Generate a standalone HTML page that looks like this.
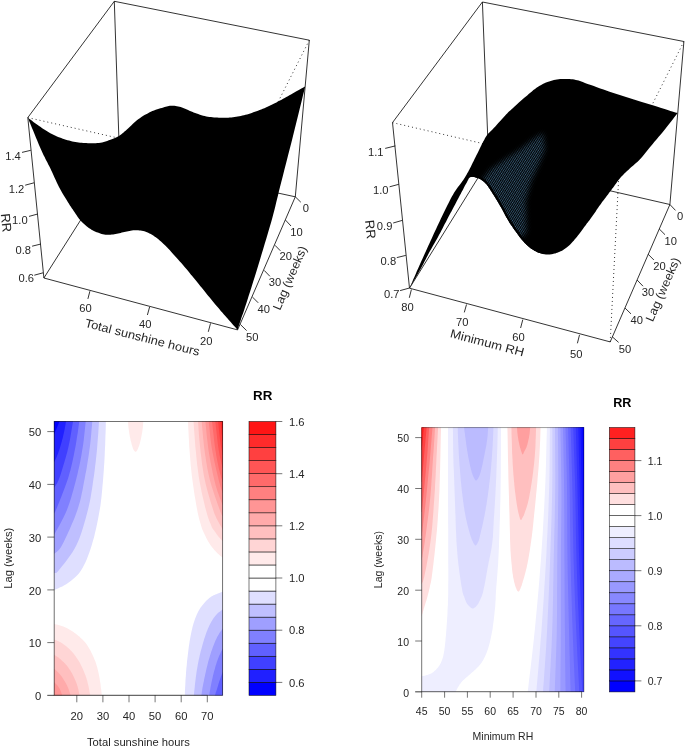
<!DOCTYPE html>
<html><head><meta charset="utf-8"><title>RR plots</title>
<style>
html,body{margin:0;padding:0;background:#fff;}
svg{display:block;font-family:"Liberation Sans",sans-serif;will-change:transform;}
text{fill:#262626;}
.bx line{stroke:#000;stroke-width:0.8;}
.dt line{stroke:#000;stroke-width:0.8;stroke-dasharray:1 3;}
.ax line{stroke:#000;stroke-opacity:0.6;stroke-width:0.9;}
.t3{font-size:11.2px;}
.tl{font-size:12px;}
.t2{font-size:10.5px;}
</style></head><body>
<svg width="685" height="747" viewBox="0 0 685 747">
<rect x="0" y="0" width="685" height="747" fill="#ffffff"/>
<g class="bx">
<line x1="114.3" y1="1.3" x2="27.8" y2="117.6" />
<line x1="114.3" y1="1.3" x2="309.3" y2="40.2" />
<line x1="114.3" y1="1.3" x2="119.0" y2="142.0" />
<line x1="27.8" y1="117.6" x2="43.9" y2="278.0" />
<line x1="309.3" y1="40.2" x2="295.3" y2="196.8" />
<line x1="43.9" y1="278.0" x2="237.6" y2="329.9" />
<line x1="237.6" y1="329.9" x2="295.3" y2="196.8" />
<line x1="43.9" y1="278.0" x2="87.0" y2="210.0" />
<line x1="295.3" y1="196.8" x2="268.0" y2="190.9" />
</g>
<g class="dt">
<line x1="27.8" y1="117.6" x2="122.0" y2="138.9" />
<line x1="309.3" y1="40.2" x2="274.0" y2="110.0" />
</g>
<polygon points="27.8,117.6 28.5,118.2 29.5,118.9 30.7,119.8 32.0,120.8 33.4,121.9 34.8,123.0 36.3,124.1 37.7,125.1 39.1,126.1 40.7,127.1 42.2,128.2 43.8,129.3 45.5,130.3 47.1,131.3 48.7,132.3 50.3,133.2 51.9,134.0 53.4,134.8 55.0,135.5 56.5,136.2 58.1,136.9 59.7,137.5 61.2,138.1 62.8,138.7 64.4,139.2 65.9,139.7 67.5,140.2 69.1,140.6 70.7,141.0 72.3,141.4 73.8,141.7 75.4,142.0 77.0,142.3 78.5,142.5 80.1,142.7 81.7,142.8 83.2,143.0 84.8,143.1 86.3,143.1 87.9,143.2 89.5,143.2 91.0,143.3 92.6,143.3 94.2,143.3 95.8,143.2 97.3,143.1 98.9,142.9 100.5,142.7 102.1,142.4 103.8,141.9 105.5,141.4 107.2,140.9 108.8,140.3 110.4,139.7 111.8,139.2 113.1,138.7 114.2,138.3 115.1,137.9 115.9,137.6 116.6,137.3 117.2,136.9 117.9,136.6 118.6,136.2 119.3,135.7 120.0,135.2 120.7,134.7 121.4,134.3 122.0,133.7 122.8,133.1 123.6,132.4 124.5,131.6 125.6,130.7 126.9,129.6 128.3,128.2 129.9,126.7 131.5,125.2 133.2,123.6 134.9,122.0 136.6,120.6 138.2,119.3 139.8,118.2 141.4,117.1 142.9,116.1 144.5,115.1 146.1,114.2 147.7,113.4 149.2,112.6 150.8,111.8 152.4,111.1 154.0,110.4 155.7,109.8 157.3,109.3 158.9,108.8 160.4,108.3 161.9,107.9 163.3,107.5 164.6,107.1 165.7,106.8 166.8,106.5 167.8,106.2 168.8,106.0 169.8,105.8 170.9,105.7 172.0,105.7 173.2,105.7 174.4,105.8 175.7,106.0 176.9,106.2 178.2,106.5 179.5,106.8 180.7,107.1 182.0,107.5 183.2,107.9 184.5,108.4 185.7,108.9 186.9,109.5 188.1,110.1 189.4,110.7 190.7,111.2 192.1,111.8 193.6,112.4 195.1,112.9 196.6,113.5 198.2,114.1 199.9,114.7 201.5,115.2 203.1,115.7 204.7,116.1 206.3,116.4 207.8,116.7 209.4,116.9 210.9,117.1 212.5,117.3 214.1,117.4 215.6,117.5 217.2,117.6 218.8,117.7 220.3,117.8 221.9,117.8 223.5,117.8 225.1,117.8 226.6,117.8 228.2,117.7 229.8,117.6 231.4,117.5 233.0,117.3 234.5,117.1 236.1,116.8 237.7,116.6 239.3,116.3 240.8,115.9 242.4,115.6 244.0,115.2 245.5,114.8 247.1,114.4 248.7,113.9 250.2,113.4 251.8,112.9 253.3,112.3 254.9,111.8 256.5,111.2 258.0,110.7 259.6,110.1 261.2,109.5 262.8,108.8 264.4,108.2 265.9,107.5 267.5,106.8 269.1,106.1 270.6,105.3 272.2,104.6 273.7,103.8 275.3,103.0 276.9,102.2 278.4,101.3 280.0,100.5 281.6,99.7 283.1,98.8 284.7,97.9 286.3,97.0 287.9,96.2 289.4,95.3 291.0,94.4 292.6,93.5 294.3,92.6 296.0,91.6 297.9,90.5 299.7,89.5 301.4,88.5 302.9,87.7 304.2,86.9 305.2,86.4 305.2,86.4 304.3,90.2 303.0,95.3 301.6,101.3 299.9,108.0 298.2,115.1 296.4,122.3 294.6,129.4 293.0,136.0 291.4,142.5 289.7,149.1 287.9,155.9 286.2,162.7 284.5,169.3 282.9,175.7 281.4,181.6 280.0,187.0 278.8,191.7 277.9,195.7 277.0,199.3 276.2,202.6 275.4,205.9 274.6,209.3 273.6,213.0 272.5,217.2 271.2,222.0 269.7,227.1 268.1,232.4 266.5,237.9 264.8,243.5 263.2,249.1 261.5,254.6 259.9,259.9 258.3,265.2 256.7,270.5 255.0,275.9 253.3,281.2 251.7,286.4 250.2,291.3 248.7,295.8 247.4,300.0 246.2,303.8 245.0,307.3 244.0,310.5 243.0,313.4 242.0,316.1 241.2,318.5 240.5,320.7 239.8,322.7 239.3,324.4 238.8,325.8 238.5,326.9 238.2,327.7 238.0,328.4 237.9,329.0 237.7,329.5 237.6,329.9 237.6,329.9 237.2,329.5 236.8,328.9 236.2,328.3 235.6,327.6 234.9,326.8 234.1,325.9 233.2,324.9 232.3,323.9 231.3,322.8 230.2,321.5 229.0,320.2 227.8,318.8 226.4,317.3 225.1,315.8 223.7,314.2 222.3,312.6 220.8,310.9 219.3,309.1 217.8,307.3 216.2,305.4 214.5,303.4 212.9,301.5 211.3,299.5 209.7,297.6 208.1,295.7 206.5,293.7 205.0,291.8 203.4,289.8 201.8,287.8 200.2,285.9 198.7,283.9 197.1,282.0 195.5,280.1 194.0,278.2 192.4,276.3 190.8,274.4 189.3,272.5 187.7,270.6 186.2,268.7 184.6,266.9 183.0,265.0 181.3,263.1 179.6,261.2 177.9,259.3 176.3,257.5 174.7,255.8 173.3,254.2 172.0,252.8 170.9,251.6 170.1,250.6 169.4,249.8 168.7,249.1 168.1,248.4 167.5,247.7 166.7,246.9 165.8,246.0 164.7,245.0 163.6,243.9 162.3,242.7 161.0,241.6 159.7,240.4 158.4,239.3 157.1,238.3 155.8,237.3 154.5,236.4 153.3,235.6 152.0,234.8 150.8,234.1 149.5,233.4 148.2,232.7 147.0,232.2 145.7,231.7 144.4,231.3 143.2,231.0 141.9,230.7 140.7,230.5 139.5,230.4 138.2,230.3 137.0,230.2 135.7,230.2 134.4,230.2 133.2,230.3 131.9,230.5 130.6,230.7 129.4,230.9 128.1,231.2 126.9,231.5 125.6,231.7 124.3,232.0 123.1,232.3 121.8,232.6 120.6,232.9 119.4,233.2 118.1,233.5 116.9,233.8 115.6,234.0 114.3,234.2 113.1,234.4 111.8,234.5 110.5,234.7 109.3,234.8 108.0,234.8 106.8,234.8 105.5,234.7 104.2,234.5 102.9,234.2 101.6,233.9 100.3,233.5 99.1,233.1 97.8,232.6 96.6,232.2 95.5,231.7 94.4,231.2 93.4,230.7 92.5,230.2 91.5,229.7 90.6,229.1 89.7,228.5 88.8,227.9 87.9,227.2 86.9,226.5 86.0,225.7 85.0,224.8 84.0,224.0 83.0,223.1 82.1,222.2 81.2,221.3 80.4,220.4 79.7,219.6 79.0,218.8 78.5,218.0 77.9,217.2 77.4,216.4 76.8,215.5 76.1,214.5 75.4,213.4 74.6,212.2 73.7,210.9 72.8,209.6 71.8,208.2 70.9,206.7 69.8,205.2 68.8,203.6 67.8,202.0 66.8,200.3 65.7,198.6 64.6,196.8 63.5,195.0 62.3,193.1 61.2,191.1 60.1,189.1 59.0,187.0 57.9,184.8 56.8,182.5 55.7,180.1 54.6,177.7 53.5,175.2 52.4,172.8 51.3,170.5 50.3,168.3 49.3,166.3 48.3,164.4 47.4,162.5 46.4,160.7 45.5,159.0 44.6,157.1 43.6,155.3 42.7,153.3 41.8,151.2 40.8,149.1 39.9,146.9 38.9,144.7 38.0,142.5 37.1,140.2 36.1,137.9 35.2,135.7 34.2,133.3 33.2,130.8 32.1,128.2 31.0,125.5 30.0,123.1 29.1,120.9 28.4,119.0 27.8,117.6" fill="#000" />
<g class="bx">
<line x1="30.8" y1="150.3" x2="22.0" y2="152.4" />
<line x1="34.0" y1="182.8" x2="25.2" y2="185.2" />
<line x1="37.4" y1="214.1" x2="29.0" y2="216.4" />
<line x1="40.6" y1="244.1" x2="32.1" y2="246.2" />
<line x1="43.1" y1="272.8" x2="34.3" y2="275.2" />
<line x1="89.9" y1="291.2" x2="87.9" y2="298.9" />
<line x1="149.6" y1="307.0" x2="147.4" y2="315.0" />
<line x1="210.5" y1="323.4" x2="208.3" y2="331.8" />
<line x1="295.3" y1="196.8" x2="300.8" y2="202.2" />
<line x1="285.5" y1="220.1" x2="291.0" y2="226.0" />
<line x1="275.0" y1="245.3" x2="280.4" y2="250.8" />
<line x1="264.2" y1="270.4" x2="269.9" y2="276.3" />
<line x1="252.4" y1="297.0" x2="258.2" y2="302.8" />
<line x1="240.4" y1="324.5" x2="246.6" y2="330.6" />
</g>
<g class="t3" text-anchor="middle">
<text x="13.0" y="159.7">1.4</text>
<text x="16.5" y="192.5">1.2</text>
<text x="19.9" y="223.7">1.0</text>
<text x="23.2" y="253.5">0.8</text>
<text x="26.3" y="281.9">0.6</text>
<text x="85.4" y="312.3">60</text>
<text x="145.2" y="328.2">40</text>
<text x="206.3" y="345.0">20</text>
<text x="305.9" y="212.4">0</text>
<text x="296.5" y="235.9">10</text>
<text x="285.7" y="260.3">20</text>
<text x="275.0" y="285.8">30</text>
<text x="263.8" y="312.8">40</text>
<text x="252.3" y="340.5">50</text>
</g>
<text class="tl" transform="translate(84.2,326.7) rotate(14.3)" textLength="118" lengthAdjust="spacingAndGlyphs">Total sunshine hours</text>
<text class="tl" text-anchor="middle" transform="translate(293.5,279.5) rotate(-66.6)" textLength="68.6" lengthAdjust="spacingAndGlyphs">Lag (weeks)</text>
<text class="tl" style="font-size:13px" text-anchor="middle" transform="translate(1.8,223.3) rotate(84)">RR</text>
<g class="bx">
<line x1="482.4" y1="2.0" x2="392.5" y2="122.6" />
<line x1="482.4" y1="2.0" x2="683.9" y2="41.5" />
<line x1="482.4" y1="2.0" x2="487.9" y2="141.0" />
<line x1="392.5" y1="122.6" x2="409.5" y2="288.2" />
<line x1="683.9" y1="41.5" x2="669.9" y2="204.5" />
<line x1="409.5" y1="288.2" x2="610.2" y2="341.9" />
<line x1="610.2" y1="341.9" x2="669.9" y2="204.5" />
<line x1="409.5" y1="288.2" x2="481.0" y2="173.0" />
<line x1="669.9" y1="204.5" x2="598.0" y2="188.0" />
</g>
<g class="dt">
<line x1="392.5" y1="122.6" x2="492.0" y2="145.7" />
<line x1="683.9" y1="41.5" x2="649.0" y2="111.0" />
<line x1="610.2" y1="341.9" x2="618.8" y2="176.0" />
</g>
<polygon points="409.5,288.2 410.2,286.7 411.0,284.7 412.1,282.3 413.2,279.6 414.5,276.8 415.7,273.9 416.9,271.1 418.1,268.5 419.2,266.0 420.3,263.5 421.4,261.1 422.6,258.6 423.7,256.1 424.8,253.6 426.0,251.1 427.1,248.6 428.2,246.1 429.4,243.6 430.5,241.1 431.7,238.6 432.8,236.1 433.9,233.6 435.1,231.1 436.2,228.7 437.3,226.3 438.5,223.8 439.6,221.4 440.7,219.0 441.8,216.7 443.0,214.3 444.1,212.0 445.2,209.7 446.3,207.4 447.4,205.2 448.6,202.9 449.7,200.7 450.8,198.5 451.9,196.4 453.1,194.4 454.2,192.5 455.4,190.7 456.6,188.9 457.8,187.3 459.0,185.7 460.2,184.2 461.3,182.7 462.3,181.3 463.3,179.9 464.2,178.6 464.9,177.4 465.6,176.3 466.2,175.2 466.8,174.2 467.4,173.1 468.1,172.0 468.7,170.8 469.4,169.5 470.0,168.2 470.7,166.9 471.4,165.6 472.0,164.2 472.7,162.8 473.4,161.4 474.1,160.0 474.8,158.5 475.6,157.0 476.3,155.5 477.1,153.9 477.9,152.4 478.6,150.9 479.3,149.5 479.9,148.2 480.5,147.0 481.0,146.0 481.5,145.0 481.9,144.1 482.4,143.2 482.8,142.4 483.2,141.6 483.7,140.7 484.2,139.9 484.6,139.0 485.0,138.2 485.4,137.5 485.9,136.7 486.4,135.9 486.9,135.2 487.5,134.4 488.1,133.7 488.8,133.0 489.4,132.4 490.1,131.7 490.9,131.0 491.7,130.2 492.7,129.2 493.8,128.1 495.1,126.7 496.6,125.0 498.3,123.1 500.0,121.2 501.8,119.3 503.4,117.4 505.0,115.7 506.3,114.3 507.4,113.2 508.2,112.3 509.0,111.6 509.6,111.0 510.3,110.4 511.0,109.8 511.9,109.0 513.0,108.0 514.3,106.8 515.7,105.5 517.3,104.1 518.9,102.6 520.6,101.1 522.3,99.6 524.0,98.1 525.6,96.7 527.2,95.4 528.7,94.0 530.3,92.7 531.9,91.4 533.4,90.1 535.0,88.9 536.5,87.7 538.1,86.7 539.7,85.7 541.2,84.9 542.8,84.1 544.4,83.3 546.0,82.6 547.5,82.0 549.1,81.4 550.7,80.9 552.3,80.4 553.9,80.1 555.4,79.7 557.0,79.5 558.6,79.3 560.2,79.1 561.7,79.0 563.3,78.9 564.9,78.9 566.4,78.9 568.0,78.9 569.5,79.0 571.1,79.2 572.7,79.3 574.2,79.6 575.8,79.9 577.3,80.2 578.6,80.6 580.0,81.1 581.3,81.6 582.8,82.1 584.4,82.7 586.2,83.4 588.4,84.2 590.9,85.1 593.8,86.1 596.9,87.2 600.2,88.4 603.5,89.6 606.9,90.8 610.3,91.9 613.5,93.0 616.6,94.0 619.8,95.1 622.9,96.1 626.0,97.1 629.2,98.0 632.3,99.0 635.5,100.0 638.6,101.0 641.8,102.0 645.2,103.0 648.5,104.1 651.9,105.1 655.2,106.1 658.3,107.1 661.2,108.0 663.8,108.8 666.2,109.5 668.4,110.2 670.4,110.9 672.3,111.4 673.9,112.0 675.4,112.4 676.6,112.8 677.6,113.1 677.6,113.1 676.5,114.5 675.1,116.3 673.4,118.5 671.5,121.0 669.5,123.5 667.5,126.1 665.6,128.5 663.8,130.7 662.2,132.7 660.5,134.7 658.9,136.6 657.3,138.4 655.8,140.3 654.2,142.1 652.7,143.9 651.2,145.7 649.7,147.5 648.3,149.3 646.9,151.1 645.5,152.8 644.1,154.6 642.7,156.2 641.4,157.8 640.0,159.3 638.6,160.7 637.3,161.9 636.0,163.1 634.6,164.3 633.3,165.4 632.0,166.5 630.8,167.6 629.5,168.7 628.3,169.9 627.0,171.0 625.8,172.2 624.6,173.3 623.5,174.5 622.3,175.7 621.2,176.8 620.2,178.0 619.2,179.2 618.3,180.3 617.4,181.5 616.6,182.7 615.7,183.9 614.9,185.1 614.1,186.2 613.2,187.4 612.3,188.6 611.5,189.7 610.6,190.9 609.7,192.1 608.8,193.2 608.0,194.4 607.1,195.5 606.2,196.7 605.3,197.9 604.5,199.0 603.6,200.2 602.7,201.3 601.8,202.5 601.0,203.7 600.1,204.9 599.2,206.1 598.3,207.4 597.4,208.7 596.5,210.0 595.7,211.4 594.8,212.7 593.9,214.0 593.0,215.3 592.1,216.6 591.2,217.8 590.3,219.0 589.5,220.2 588.6,221.3 587.7,222.5 586.8,223.6 586.0,224.7 585.1,225.9 584.2,227.1 583.4,228.3 582.5,229.5 581.6,230.7 580.7,231.9 579.9,233.0 579.0,234.2 578.1,235.3 577.2,236.4 576.4,237.5 575.5,238.6 574.6,239.6 573.7,240.7 572.9,241.6 572.0,242.6 571.1,243.5 570.2,244.4 569.4,245.2 568.5,246.0 567.6,246.7 566.7,247.4 565.9,248.1 565.0,248.7 564.1,249.3 563.2,249.9 562.4,250.4 561.5,250.9 560.6,251.3 559.7,251.7 558.9,252.1 558.0,252.5 557.1,252.8 556.2,253.1 555.4,253.4 554.5,253.6 553.6,253.8 552.7,254.0 551.9,254.2 551.0,254.3 550.1,254.4 549.2,254.5 548.4,254.5 547.5,254.5 546.6,254.4 545.7,254.4 544.9,254.3 544.0,254.2 543.1,254.0 542.2,253.8 541.4,253.6 540.5,253.3 539.6,253.1 538.7,252.7 537.9,252.4 537.0,252.0 536.1,251.6 535.2,251.1 534.4,250.7 533.5,250.1 532.6,249.6 531.7,249.0 530.9,248.4 530.0,247.7 529.1,247.0 528.2,246.3 527.4,245.5 526.5,244.7 525.6,243.8 524.7,242.9 523.9,242.0 523.0,241.0 522.1,240.0 521.2,238.9 520.3,237.8 519.4,236.7 518.6,235.5 517.7,234.3 516.8,233.1 515.9,231.8 515.0,230.6 514.1,229.4 513.2,228.1 512.4,226.8 511.5,225.6 510.6,224.3 509.7,222.9 508.9,221.5 508.0,220.1 507.1,218.6 506.2,217.0 505.4,215.4 504.5,213.7 503.6,212.0 502.8,210.4 501.9,208.8 501.0,207.2 500.1,205.7 499.2,204.2 498.4,202.7 497.5,201.3 496.6,199.8 495.8,198.4 494.9,197.0 494.0,195.6 493.1,194.2 492.2,192.7 491.3,191.3 490.4,189.9 489.5,188.5 488.6,187.2 487.8,186.0 487.0,185.0 486.3,184.1 485.6,183.4 484.9,182.7 484.3,182.1 483.7,181.6 483.1,181.2 482.6,180.7 482.0,180.3 481.4,179.9 480.9,179.6 480.4,179.3 479.9,179.0 479.4,178.7 478.9,178.5 478.4,178.3 477.8,178.1 477.2,177.9 476.5,177.7 475.7,177.5 475.0,177.3 474.2,177.1 473.5,177.0 472.9,176.9 472.3,176.8 471.8,176.8 471.3,176.9 470.9,177.0 470.5,177.1 470.1,177.3 469.8,177.4 469.5,177.5 469.3,177.6 469.3,177.6 468.8,178.5 468.3,179.6 467.5,180.9 466.8,182.4 465.9,184.0 465.0,185.6 464.1,187.3 463.3,188.9 462.5,190.5 461.6,192.1 460.8,193.7 459.9,195.3 459.0,197.0 458.1,198.8 457.1,200.6 456.1,202.5 455.1,204.5 454.0,206.5 452.8,208.7 451.7,210.9 450.5,213.1 449.3,215.3 448.1,217.5 447.0,219.7 445.9,221.9 444.7,224.0 443.6,226.2 442.5,228.4 441.4,230.5 440.3,232.7 439.1,234.8 438.0,236.9 436.9,239.0 435.7,241.0 434.6,243.0 433.4,245.0 432.3,247.0 431.2,249.0 430.0,251.0 428.9,253.1 427.8,255.2 426.7,257.3 425.6,259.4 424.5,261.6 423.4,263.8 422.2,265.9 421.1,268.1 419.9,270.3 418.6,272.6 417.2,275.1 415.6,277.7 414.1,280.3 412.7,282.8 411.4,285.0 410.3,286.8 409.5,288.2" fill="#000" />
<defs><pattern id="mo" width="1.7" height="1.9" patternUnits="userSpaceOnUse" patternTransform="rotate(-58)"><rect x="0" y="0" width="1.7" height="0.95" fill="#3b6280"/><rect x="0" y="0" width="0.7" height="1.9" fill="#000" fill-opacity="0.55"/></pattern><filter id="mb" x="-20%" y="-20%" width="140%" height="140%"><feGaussianBlur stdDeviation="2.6"/></filter><clipPath id="sc2"><polygon points="409.5,288.2 410.2,286.7 411.0,284.7 412.1,282.3 413.2,279.6 414.5,276.8 415.7,273.9 416.9,271.1 418.1,268.5 419.2,266.0 420.3,263.5 421.4,261.1 422.6,258.6 423.7,256.1 424.8,253.6 426.0,251.1 427.1,248.6 428.2,246.1 429.4,243.6 430.5,241.1 431.7,238.6 432.8,236.1 433.9,233.6 435.1,231.1 436.2,228.7 437.3,226.3 438.5,223.8 439.6,221.4 440.7,219.0 441.8,216.7 443.0,214.3 444.1,212.0 445.2,209.7 446.3,207.4 447.4,205.2 448.6,202.9 449.7,200.7 450.8,198.5 451.9,196.4 453.1,194.4 454.2,192.5 455.4,190.7 456.6,188.9 457.8,187.3 459.0,185.7 460.2,184.2 461.3,182.7 462.3,181.3 463.3,179.9 464.2,178.6 464.9,177.4 465.6,176.3 466.2,175.2 466.8,174.2 467.4,173.1 468.1,172.0 468.7,170.8 469.4,169.5 470.0,168.2 470.7,166.9 471.4,165.6 472.0,164.2 472.7,162.8 473.4,161.4 474.1,160.0 474.8,158.5 475.6,157.0 476.3,155.5 477.1,153.9 477.9,152.4 478.6,150.9 479.3,149.5 479.9,148.2 480.5,147.0 481.0,146.0 481.5,145.0 481.9,144.1 482.4,143.2 482.8,142.4 483.2,141.6 483.7,140.7 484.2,139.9 484.6,139.0 485.0,138.2 485.4,137.5 485.9,136.7 486.4,135.9 486.9,135.2 487.5,134.4 488.1,133.7 488.8,133.0 489.4,132.4 490.1,131.7 490.9,131.0 491.7,130.2 492.7,129.2 493.8,128.1 495.1,126.7 496.6,125.0 498.3,123.1 500.0,121.2 501.8,119.3 503.4,117.4 505.0,115.7 506.3,114.3 507.4,113.2 508.2,112.3 509.0,111.6 509.6,111.0 510.3,110.4 511.0,109.8 511.9,109.0 513.0,108.0 514.3,106.8 515.7,105.5 517.3,104.1 518.9,102.6 520.6,101.1 522.3,99.6 524.0,98.1 525.6,96.7 527.2,95.4 528.7,94.0 530.3,92.7 531.9,91.4 533.4,90.1 535.0,88.9 536.5,87.7 538.1,86.7 539.7,85.7 541.2,84.9 542.8,84.1 544.4,83.3 546.0,82.6 547.5,82.0 549.1,81.4 550.7,80.9 552.3,80.4 553.9,80.1 555.4,79.7 557.0,79.5 558.6,79.3 560.2,79.1 561.7,79.0 563.3,78.9 564.9,78.9 566.4,78.9 568.0,78.9 569.5,79.0 571.1,79.2 572.7,79.3 574.2,79.6 575.8,79.9 577.3,80.2 578.6,80.6 580.0,81.1 581.3,81.6 582.8,82.1 584.4,82.7 586.2,83.4 588.4,84.2 590.9,85.1 593.8,86.1 596.9,87.2 600.2,88.4 603.5,89.6 606.9,90.8 610.3,91.9 613.5,93.0 616.6,94.0 619.8,95.1 622.9,96.1 626.0,97.1 629.2,98.0 632.3,99.0 635.5,100.0 638.6,101.0 641.8,102.0 645.2,103.0 648.5,104.1 651.9,105.1 655.2,106.1 658.3,107.1 661.2,108.0 663.8,108.8 666.2,109.5 668.4,110.2 670.4,110.9 672.3,111.4 673.9,112.0 675.4,112.4 676.6,112.8 677.6,113.1 677.6,113.1 676.5,114.5 675.1,116.3 673.4,118.5 671.5,121.0 669.5,123.5 667.5,126.1 665.6,128.5 663.8,130.7 662.2,132.7 660.5,134.7 658.9,136.6 657.3,138.4 655.8,140.3 654.2,142.1 652.7,143.9 651.2,145.7 649.7,147.5 648.3,149.3 646.9,151.1 645.5,152.8 644.1,154.6 642.7,156.2 641.4,157.8 640.0,159.3 638.6,160.7 637.3,161.9 636.0,163.1 634.6,164.3 633.3,165.4 632.0,166.5 630.8,167.6 629.5,168.7 628.3,169.9 627.0,171.0 625.8,172.2 624.6,173.3 623.5,174.5 622.3,175.7 621.2,176.8 620.2,178.0 619.2,179.2 618.3,180.3 617.4,181.5 616.6,182.7 615.7,183.9 614.9,185.1 614.1,186.2 613.2,187.4 612.3,188.6 611.5,189.7 610.6,190.9 609.7,192.1 608.8,193.2 608.0,194.4 607.1,195.5 606.2,196.7 605.3,197.9 604.5,199.0 603.6,200.2 602.7,201.3 601.8,202.5 601.0,203.7 600.1,204.9 599.2,206.1 598.3,207.4 597.4,208.7 596.5,210.0 595.7,211.4 594.8,212.7 593.9,214.0 593.0,215.3 592.1,216.6 591.2,217.8 590.3,219.0 589.5,220.2 588.6,221.3 587.7,222.5 586.8,223.6 586.0,224.7 585.1,225.9 584.2,227.1 583.4,228.3 582.5,229.5 581.6,230.7 580.7,231.9 579.9,233.0 579.0,234.2 578.1,235.3 577.2,236.4 576.4,237.5 575.5,238.6 574.6,239.6 573.7,240.7 572.9,241.6 572.0,242.6 571.1,243.5 570.2,244.4 569.4,245.2 568.5,246.0 567.6,246.7 566.7,247.4 565.9,248.1 565.0,248.7 564.1,249.3 563.2,249.9 562.4,250.4 561.5,250.9 560.6,251.3 559.7,251.7 558.9,252.1 558.0,252.5 557.1,252.8 556.2,253.1 555.4,253.4 554.5,253.6 553.6,253.8 552.7,254.0 551.9,254.2 551.0,254.3 550.1,254.4 549.2,254.5 548.4,254.5 547.5,254.5 546.6,254.4 545.7,254.4 544.9,254.3 544.0,254.2 543.1,254.0 542.2,253.8 541.4,253.6 540.5,253.3 539.6,253.1 538.7,252.7 537.9,252.4 537.0,252.0 536.1,251.6 535.2,251.1 534.4,250.7 533.5,250.1 532.6,249.6 531.7,249.0 530.9,248.4 530.0,247.7 529.1,247.0 528.2,246.3 527.4,245.5 526.5,244.7 525.6,243.8 524.7,242.9 523.9,242.0 523.0,241.0 522.1,240.0 521.2,238.9 520.3,237.8 519.4,236.7 518.6,235.5 517.7,234.3 516.8,233.1 515.9,231.8 515.0,230.6 514.1,229.4 513.2,228.1 512.4,226.8 511.5,225.6 510.6,224.3 509.7,222.9 508.9,221.5 508.0,220.1 507.1,218.6 506.2,217.0 505.4,215.4 504.5,213.7 503.6,212.0 502.8,210.4 501.9,208.8 501.0,207.2 500.1,205.7 499.2,204.2 498.4,202.7 497.5,201.3 496.6,199.8 495.8,198.4 494.9,197.0 494.0,195.6 493.1,194.2 492.2,192.7 491.3,191.3 490.4,189.9 489.5,188.5 488.6,187.2 487.8,186.0 487.0,185.0 486.3,184.1 485.6,183.4 484.9,182.7 484.3,182.1 483.7,181.6 483.1,181.2 482.6,180.7 482.0,180.3 481.4,179.9 480.9,179.6 480.4,179.3 479.9,179.0 479.4,178.7 478.9,178.5 478.4,178.3 477.8,178.1 477.2,177.9 476.5,177.7 475.7,177.5 475.0,177.3 474.2,177.1 473.5,177.0 472.9,176.9 472.3,176.8 471.8,176.8 471.3,176.9 470.9,177.0 470.5,177.1 470.1,177.3 469.8,177.4 469.5,177.5 469.3,177.6 469.3,177.6 468.8,178.5 468.3,179.6 467.5,180.9 466.8,182.4 465.9,184.0 465.0,185.6 464.1,187.3 463.3,188.9 462.5,190.5 461.6,192.1 460.8,193.7 459.9,195.3 459.0,197.0 458.1,198.8 457.1,200.6 456.1,202.5 455.1,204.5 454.0,206.5 452.8,208.7 451.7,210.9 450.5,213.1 449.3,215.3 448.1,217.5 447.0,219.7 445.9,221.9 444.7,224.0 443.6,226.2 442.5,228.4 441.4,230.5 440.3,232.7 439.1,234.8 438.0,236.9 436.9,239.0 435.7,241.0 434.6,243.0 433.4,245.0 432.3,247.0 431.2,249.0 430.0,251.0 428.9,253.1 427.8,255.2 426.7,257.3 425.6,259.4 424.5,261.6 423.4,263.8 422.2,265.9 421.1,268.1 419.9,270.3 418.6,272.6 417.2,275.1 415.6,277.7 414.1,280.3 412.7,282.8 411.4,285.0 410.3,286.8 409.5,288.2"/></clipPath><mask id="mm" maskUnits="userSpaceOnUse" x="460" y="110" width="110" height="150"><g filter="url(#mb)"><polygon points="480,183 490,170 504,160 519.3,150 532.1,140 543,133 545,149 539,164.2 531,181.4 525.8,200.6 526.2,219.9 526.5,232 521,238 510,233 500,220 490,204 482,192" fill="#fff"/></g></mask></defs>
<g clip-path="url(#sc2)"><rect x="460" y="110" width="110" height="150" fill="url(#mo)" mask="url(#mm)"/><polyline points="543.1,254.0 542.2,253.8 541.4,253.6 540.5,253.3 539.6,253.1 538.7,252.7 537.9,252.4 537.0,252.0 536.1,251.6 535.2,251.1 534.4,250.7 533.5,250.1 532.6,249.6 531.7,249.0 530.9,248.4 530.0,247.7 529.1,247.0 528.2,246.3 527.4,245.5 526.5,244.7 525.6,243.8 524.7,242.9 523.9,242.0 523.0,241.0 522.1,240.0 521.2,238.9 520.3,237.8 519.4,236.7 518.6,235.5 517.7,234.3 516.8,233.1 515.9,231.8 515.0,230.6 514.1,229.4 513.2,228.1 512.4,226.8 511.5,225.6 510.6,224.3 509.7,222.9 508.9,221.5 508.0,220.1 507.1,218.6 506.2,217.0 505.4,215.4 504.5,213.7 503.6,212.0 502.8,210.4 501.9,208.8 501.0,207.2 500.1,205.7 499.2,204.2 498.4,202.7 497.5,201.3 496.6,199.8 495.8,198.4 494.9,197.0 494.0,195.6 493.1,194.2 492.2,192.7 491.3,191.3 490.4,189.9 489.5,188.5 488.6,187.2 487.8,186.0 487.0,185.0 486.3,184.1 485.6,183.4 484.9,182.7 484.3,182.1 483.7,181.6 483.1,181.2 482.6,180.7 482.0,180.3 481.4,179.9 480.9,179.6 480.4,179.3 479.9,179.0 479.4,178.7 478.9,178.5 478.4,178.3 477.8,178.1 477.2,177.9 476.5,177.7 475.7,177.5 475.0,177.3 474.2,177.1 473.5,177.0 472.9,176.9 472.3,176.8 471.8,176.8 471.3,176.9 470.9,177.0 470.5,177.1 470.1,177.3 469.8,177.4 469.5,177.5 469.3,177.6" fill="none" stroke="#000" stroke-width="4.4"/></g>
<g class="bx">
<line x1="395.3" y1="145.9" x2="385.2" y2="148.4" />
<line x1="398.8" y1="184.3" x2="389.6" y2="186.8" />
<line x1="402.2" y1="220.4" x2="393.2" y2="223.0" />
<line x1="405.8" y1="255.4" x2="396.8" y2="257.6" />
<line x1="409.2" y1="288.1" x2="400.1" y2="290.6" />
<line x1="411.4" y1="289.5" x2="409.3" y2="297.8" />
<line x1="466.5" y1="304.5" x2="464.3" y2="312.4" />
<line x1="522.8" y1="319.6" x2="520.6" y2="328.0" />
<line x1="579.5" y1="334.9" x2="577.4" y2="343.3" />
<line x1="669.9" y1="204.5" x2="675.5" y2="210.4" />
<line x1="659.2" y1="228.9" x2="665.0" y2="234.7" />
<line x1="648.1" y1="254.2" x2="653.9" y2="260.0" />
<line x1="637.1" y1="280.0" x2="643.0" y2="286.2" />
<line x1="625.1" y1="308.1" x2="631.0" y2="313.9" />
<line x1="612.3" y1="336.8" x2="618.6" y2="342.4" />
</g>
<g class="t3" text-anchor="middle">
<text x="375.7" y="155.6">1.1</text>
<text x="380.8" y="194.0">1.0</text>
<text x="384.6" y="230.2">0.9</text>
<text x="388.4" y="264.8">0.8</text>
<text x="391.7" y="298.2">0.7</text>
<text x="407.4" y="311.1">80</text>
<text x="462.2" y="326.0">70</text>
<text x="518.5" y="341.4">60</text>
<text x="576.2" y="357.5">50</text>
<text x="680.1" y="220.4">0</text>
<text x="670.8" y="244.7">10</text>
<text x="659.5" y="269.8">20</text>
<text x="648.1" y="296.4">30</text>
<text x="636.8" y="324.1">40</text>
<text x="625.0" y="353.3">50</text>
</g>
<text class="tl" transform="translate(449.5,337.1) rotate(14.8)" textLength="76" lengthAdjust="spacingAndGlyphs">Minimum RH</text>
<text class="tl" text-anchor="middle" transform="translate(666.5,291.0) rotate(-66.5)" textLength="68.6" lengthAdjust="spacingAndGlyphs">Lag (weeks)</text>
<text class="tl" style="font-size:13px" text-anchor="middle" transform="translate(366.0,229.9) rotate(84)">RR</text>
<defs><clipPath id="c3"><rect x="54.2" y="421.5" width="168.4" height="273.8"/></clipPath></defs>
<g clip-path="url(#c3)">
<polygon points="52.2,419.5 105.9,419.5 105.9,421.5 105.8,423.5 105.8,426.2 105.7,429.3 105.6,432.9 105.4,436.6 105.3,440.5 105.2,444.3 105.0,448.0 104.8,451.6 104.7,455.2 104.5,458.9 104.3,462.7 104.0,466.4 103.8,470.3 103.5,474.1 103.2,478.0 102.9,481.9 102.5,485.8 102.2,489.7 101.8,493.7 101.4,497.7 100.9,501.7 100.4,505.8 99.7,510.0 98.9,514.3 98.1,518.8 97.2,523.3 96.2,527.9 95.1,532.5 94.1,536.9 92.9,541.1 91.8,545.0 90.6,548.7 89.4,552.2 88.2,555.6 86.9,558.9 85.6,561.9 84.2,564.8 82.8,567.5 81.3,570.0 79.8,572.2 78.2,574.2 76.5,576.0 74.9,577.6 73.1,579.1 71.4,580.5 69.7,581.7 68.0,583.0 66.2,584.2 64.3,585.3 62.3,586.4 60.3,587.3 58.4,588.2 56.7,588.9 55.3,589.5 54.2,590.0 52.2,590.0" fill="#dfdfff" />
<polygon points="52.2,419.5 99.0,419.5 99.0,421.5 98.9,423.5 98.7,426.2 98.5,429.3 98.3,432.9 98.0,436.6 97.7,440.5 97.4,444.3 97.1,448.0 96.8,451.6 96.4,455.2 96.0,458.9 95.6,462.7 95.1,466.4 94.7,470.3 94.2,474.1 93.6,478.0 93.0,481.9 92.5,485.8 91.9,489.7 91.2,493.7 90.6,497.7 89.8,501.7 88.9,505.8 87.9,510.0 86.8,514.3 85.6,518.8 84.3,523.3 82.9,527.9 81.5,532.5 79.9,536.9 78.3,541.1 76.5,545.0 74.5,548.8 72.3,552.5 69.8,556.1 67.3,559.5 64.9,562.7 62.6,565.5 60.6,568.0 59.0,570.0 57.8,571.4 56.8,572.4 56.1,572.9 55.5,573.1 55.1,573.1 54.8,573.0 54.5,572.9 54.2,573.0 52.2,573.0" fill="#bfbfff" />
<polygon points="52.2,419.5 92.3,419.5 92.3,421.5 92.1,423.5 91.9,426.2 91.6,429.3 91.3,432.9 91.0,436.6 90.6,440.5 90.2,444.3 89.7,448.0 89.2,451.6 88.7,455.2 88.1,458.9 87.5,462.7 86.9,466.4 86.3,470.3 85.5,474.1 84.8,478.0 84.0,481.9 83.3,485.8 82.6,489.7 81.7,493.7 80.9,497.7 79.9,501.7 78.7,505.8 77.4,510.0 75.8,514.4 74.0,519.2 71.9,524.1 69.8,529.0 67.6,533.7 65.6,538.0 63.7,541.9 62.1,545.0 60.7,547.4 59.4,549.2 58.2,550.6 57.2,551.5 56.3,552.2 55.4,552.8 54.8,553.2 54.2,553.7 52.2,553.7" fill="#9f9fff" />
<polygon points="52.2,419.5 85.7,419.5 85.7,421.5 85.5,423.5 85.2,426.2 84.9,429.3 84.5,432.9 84.1,436.6 83.7,440.5 83.2,444.3 82.6,448.0 82.0,451.6 81.4,455.2 80.7,458.9 80.0,462.7 79.2,466.4 78.3,470.3 77.5,474.1 76.5,478.0 75.5,482.0 74.4,486.0 73.3,490.2 72.1,494.3 70.9,498.5 69.6,502.5 68.3,506.3 66.9,510.0 65.4,513.6 63.6,517.2 61.8,520.8 60.0,524.2 58.2,527.4 56.6,530.3 55.2,532.7 54.2,534.5 52.2,534.5" fill="#8080ff" />
<polygon points="52.2,419.5 79.3,419.5 79.3,421.5 79.0,423.5 78.6,426.2 78.2,429.3 77.7,432.9 77.1,436.6 76.5,440.5 75.9,444.3 75.2,448.0 74.5,451.6 73.8,455.2 73.0,458.9 72.2,462.7 71.3,466.4 70.4,470.3 69.3,474.1 68.2,478.0 66.8,482.1 65.2,486.5 63.5,491.1 61.7,495.7 60.0,500.1 58.4,504.0 57.0,507.4 55.9,510.0 55.2,511.8 54.7,512.8 54.4,513.3 54.3,513.4 54.2,513.2 54.3,513.0 54.3,512.8 54.2,512.8 52.2,512.8" fill="#6060ff" />
<polygon points="52.2,419.5 73.0,419.5 73.0,421.5 72.7,423.5 72.2,426.2 71.7,429.3 71.1,432.9 70.5,436.6 69.8,440.5 69.0,444.3 68.2,448.0 67.3,451.7 66.2,455.7 65.0,459.9 63.8,464.1 62.6,468.1 61.4,471.9 60.4,475.2 59.4,478.0 58.5,480.2 57.7,482.0 57.0,483.5 56.2,484.6 55.6,485.5 55.0,486.3 54.6,486.9 54.2,487.5 52.2,487.5" fill="#4040ff" />
<polygon points="52.2,419.5 66.0,419.5 66.0,421.5 65.8,422.5 65.6,423.9 65.3,425.6 64.9,427.4 64.6,429.4 64.2,431.3 63.8,433.2 63.4,435.0 63.0,436.7 62.6,438.4 62.1,440.1 61.7,441.8 61.2,443.4 60.8,445.0 60.3,446.6 59.9,448.0 59.5,449.3 59.0,450.6 58.6,451.8 58.2,453.0 57.8,454.1 57.4,455.1 57.0,456.1 56.6,457.0 56.2,457.9 55.9,458.6 55.5,459.4 55.2,460.1 54.9,460.7 54.6,461.2 54.4,461.6 54.2,462.0 52.2,462.0" fill="#2020ff" />
<polygon points="52.2,419.5 59.4,419.5 59.4,421.5 59.2,422.0 58.9,422.7 58.6,423.5 58.3,424.4 57.9,425.3 57.5,426.3 57.1,427.2 56.8,428.0 56.5,428.8 56.1,429.7 55.7,430.6 55.3,431.4 55.0,432.2 54.7,432.9 54.4,433.5 54.2,434.0 52.2,434.0" fill="#0000ff" />
<polygon points="52.2,697.3 52.2,624.1 54.3,624.1 54.7,624.2 55.3,624.3 56.0,624.4 56.8,624.6 57.6,624.8 58.5,624.9 59.3,625.2 60.1,625.4 60.9,625.7 61.7,625.9 62.5,626.3 63.4,626.6 64.2,626.9 65.1,627.3 66.0,627.7 66.8,628.1 67.6,628.5 68.5,629.0 69.3,629.4 70.1,629.9 71.0,630.4 71.8,631.0 72.7,631.5 73.5,632.1 74.3,632.7 75.2,633.3 76.0,633.9 76.8,634.5 77.7,635.2 78.5,635.9 79.4,636.6 80.2,637.4 81.0,638.2 81.9,639.0 82.7,639.8 83.6,640.7 84.4,641.6 85.2,642.6 86.1,643.6 86.9,644.8 87.7,646.1 88.6,647.5 89.5,649.0 90.4,650.6 91.2,652.2 92.0,653.8 92.8,655.4 93.5,656.9 94.1,658.4 94.7,659.9 95.3,661.3 95.8,662.8 96.3,664.3 96.7,665.8 97.2,667.3 97.6,668.9 98.0,670.5 98.4,672.2 98.7,673.8 99.1,675.5 99.4,677.2 99.7,678.9 99.9,680.6 100.2,682.3 100.5,684.0 100.7,685.9 100.9,687.8 101.2,689.6 101.4,691.4 101.5,693.0 101.7,694.3 101.8,695.3 101.8,697.3" fill="#ffeaea" />
<polygon points="52.2,697.3 52.2,639.5 54.3,639.5 54.7,639.7 55.3,639.9 56.0,640.2 56.8,640.5 57.6,640.9 58.5,641.2 59.3,641.7 60.1,642.1 60.9,642.6 61.7,643.1 62.5,643.6 63.4,644.2 64.2,644.8 65.1,645.4 66.0,646.1 66.8,646.8 67.6,647.5 68.5,648.3 69.3,649.0 70.1,649.8 71.0,650.7 71.8,651.5 72.7,652.5 73.5,653.5 74.3,654.6 75.2,655.7 76.1,656.9 76.9,658.2 77.8,659.5 78.6,660.8 79.4,662.1 80.2,663.5 80.9,664.9 81.7,666.4 82.4,668.0 83.1,669.6 83.8,671.2 84.4,672.7 85.0,674.2 85.5,675.6 86.0,676.9 86.4,678.1 86.7,679.3 87.1,680.4 87.4,681.5 87.6,682.6 87.9,683.8 88.2,685.0 88.5,686.3 88.8,687.8 89.1,689.2 89.4,690.7 89.6,692.2 89.9,693.4 90.1,694.5 90.2,695.3 90.2,697.3" fill="#ffd5d5" />
<polygon points="52.2,697.3 52.2,654.8 54.3,654.8 54.7,655.1 55.3,655.5 56.0,655.9 56.8,656.4 57.6,657.0 58.5,657.6 59.3,658.2 60.1,658.9 60.9,659.6 61.7,660.4 62.6,661.2 63.5,662.0 64.4,662.9 65.2,663.8 66.0,664.7 66.8,665.6 67.5,666.5 68.3,667.5 68.9,668.5 69.6,669.5 70.3,670.5 70.9,671.5 71.5,672.6 72.1,673.6 72.7,674.7 73.2,675.8 73.8,676.9 74.3,678.0 74.8,679.2 75.3,680.2 75.7,681.3 76.1,682.3 76.5,683.2 76.8,684.1 77.1,685.0 77.3,685.8 77.6,686.6 77.8,687.4 78.0,688.2 78.2,689.0 78.4,689.8 78.6,690.8 78.8,691.7 79.0,692.6 79.1,693.4 79.3,694.2 79.4,694.8 79.5,695.3 79.5,697.3" fill="#ffbfbf" />
<polygon points="52.2,697.3 52.2,668.9 54.3,668.9 54.6,669.2 55.1,669.6 55.6,670.0 56.2,670.6 56.9,671.1 57.5,671.7 58.1,672.3 58.7,672.9 59.2,673.5 59.7,674.1 60.3,674.8 60.8,675.4 61.3,676.1 61.8,676.8 62.3,677.6 62.8,678.3 63.3,679.1 63.8,679.9 64.4,680.7 64.9,681.6 65.4,682.4 65.9,683.3 66.4,684.2 66.8,685.0 67.2,685.9 67.6,686.7 68.0,687.6 68.3,688.5 68.7,689.4 69.0,690.2 69.3,691.0 69.5,691.7 69.7,692.3 69.9,692.9 70.0,693.4 70.2,693.9 70.3,694.3 70.4,694.7 70.4,695.0 70.5,695.3 70.5,697.3" fill="#ffaaaa" />
<polygon points="52.2,697.3 52.2,682.3 54.3,682.3 54.5,682.5 54.9,682.9 55.3,683.3 55.7,683.7 56.1,684.2 56.6,684.6 57.0,685.1 57.4,685.6 57.8,686.1 58.1,686.5 58.5,687.0 58.8,687.5 59.2,688.0 59.5,688.6 59.8,689.1 60.1,689.7 60.4,690.4 60.7,691.1 61.0,691.9 61.3,692.8 61.5,693.5 61.8,694.3 62.0,694.9 62.1,695.3 62.1,697.3" fill="#ff9595" />
<polygon points="224.6,419.5 188.0,419.5 188.0,421.5 188.1,423.7 188.2,426.6 188.4,430.0 188.6,433.9 188.8,438.0 189.0,442.1 189.2,446.2 189.5,450.0 189.8,453.7 190.1,457.4 190.4,461.1 190.7,464.9 191.1,468.7 191.5,472.5 191.9,476.2 192.4,480.0 192.9,483.8 193.5,487.8 194.1,491.9 194.7,495.9 195.4,499.8 196.0,503.5 196.6,506.9 197.2,510.0 197.7,512.7 198.3,515.2 198.8,517.4 199.3,519.4 199.8,521.3 200.3,522.9 200.8,524.5 201.2,526.0 201.6,527.3 202.0,528.4 202.3,529.4 202.7,530.2 203.0,530.9 203.4,531.7 203.7,532.4 204.1,533.3 204.5,534.2 204.9,535.1 205.4,536.1 205.8,537.0 206.3,537.9 206.7,538.8 207.2,539.7 207.7,540.6 208.2,541.5 208.7,542.3 209.3,543.2 209.8,544.0 210.4,544.9 211.0,545.7 211.5,546.5 212.1,547.2 212.7,547.9 213.2,548.6 213.8,549.3 214.3,549.9 214.8,550.5 215.4,551.1 215.9,551.7 216.5,552.3 217.1,552.9 217.7,553.4 218.3,554.0 218.9,554.5 219.4,555.1 220.0,555.5 220.5,555.9 220.9,556.3 221.3,556.6 221.6,556.8 221.8,557.0 222.0,557.1 222.2,557.2 222.4,557.3 222.5,557.3 222.6,557.4 224.6,557.4" fill="#ffeaea" />
<polygon points="224.6,419.5 193.5,419.5 193.5,421.5 193.7,423.7 193.9,426.6 194.1,430.0 194.4,433.9 194.7,438.0 195.0,442.1 195.3,446.2 195.7,450.0 196.1,453.7 196.4,457.4 196.8,461.1 197.2,464.9 197.7,468.7 198.2,472.5 198.7,476.2 199.3,480.0 200.0,483.8 200.8,487.8 201.6,491.9 202.5,495.9 203.4,499.8 204.3,503.5 205.1,506.9 205.9,510.0 206.7,512.7 207.4,515.2 208.1,517.5 208.8,519.5 209.5,521.4 210.2,523.0 210.8,524.6 211.4,526.0 211.9,527.2 212.4,528.2 212.9,529.0 213.3,529.6 213.7,530.1 214.1,530.6 214.6,531.2 215.0,531.8 215.5,532.5 215.9,533.1 216.4,533.8 216.8,534.5 217.3,535.1 217.8,535.7 218.2,536.3 218.7,536.9 219.2,537.5 219.8,538.1 220.3,538.7 220.9,539.3 221.4,539.8 221.9,540.3 222.3,540.7 222.6,541.0 224.6,541.0" fill="#ffd5d5" />
<polygon points="224.6,419.5 198.0,419.5 198.0,421.5 198.2,423.7 198.4,426.6 198.6,430.0 198.9,433.9 199.2,438.0 199.6,442.1 200.0,446.2 200.4,450.0 200.8,453.7 201.3,457.4 201.7,461.1 202.2,464.9 202.8,468.7 203.4,472.5 204.0,476.2 204.8,480.0 205.7,483.9 206.7,487.9 207.8,492.0 208.9,496.1 210.1,500.1 211.2,503.8 212.3,507.1 213.2,510.0 214.0,512.4 214.8,514.4 215.5,516.0 216.1,517.4 216.7,518.7 217.3,519.8 217.9,520.9 218.5,522.0 219.1,523.2 219.7,524.3 220.3,525.3 220.9,526.2 221.4,527.1 221.9,527.9 222.3,528.5 222.6,529.0 224.6,529.0" fill="#ffbfbf" />
<polygon points="224.6,419.5 201.7,419.5 201.7,421.5 201.9,423.7 202.1,426.6 202.4,430.0 202.8,433.9 203.1,438.0 203.6,442.1 204.0,446.2 204.5,450.0 205.0,453.7 205.6,457.4 206.1,461.1 206.8,464.9 207.4,468.7 208.2,472.5 209.0,476.2 209.9,480.0 211.0,483.9 212.2,488.1 213.6,492.3 215.0,496.5 216.4,500.5 217.7,504.2 218.9,507.4 219.8,510.0 220.5,511.9 221.1,513.3 221.5,514.3 221.8,514.9 222.1,515.2 222.3,515.5 222.4,515.7 222.6,516.0 224.6,516.0" fill="#ffaaaa" />
<polygon points="224.6,419.5 205.4,419.5 205.4,421.5 205.6,423.7 205.9,426.6 206.2,430.0 206.6,433.9 207.0,438.0 207.5,442.1 208.0,446.2 208.5,450.0 209.1,453.8 209.8,457.7 210.5,461.7 211.3,465.7 212.1,469.6 212.8,473.4 213.6,476.9 214.3,480.0 215.0,482.8 215.7,485.4 216.4,487.7 217.1,489.9 217.7,491.9 218.4,493.7 219.0,495.4 219.5,497.0 220.0,498.5 220.5,499.8 221.0,501.0 221.4,502.1 221.8,503.0 222.1,503.8 222.4,504.4 222.6,505.0 224.6,505.0" fill="#ff9595" />
<polygon points="224.6,419.5 208.7,419.5 208.7,421.5 208.9,423.7 209.2,426.6 209.6,430.0 210.0,433.9 210.4,438.0 210.9,442.1 211.5,446.2 212.1,450.0 212.8,453.8 213.6,457.8 214.5,461.9 215.4,466.0 216.3,469.9 217.2,473.7 218.0,477.1 218.7,480.0 219.3,482.5 220.0,484.8 220.5,486.7 221.1,488.4 221.5,489.8 222.0,491.1 222.3,492.1 222.6,493.0 224.6,493.0" fill="#ff8080" />
<polygon points="224.6,419.5 212.0,419.5 212.0,421.5 212.3,423.8 212.6,426.8 213.0,430.5 213.5,434.5 213.9,438.7 214.4,442.8 214.9,446.6 215.4,450.0 215.9,453.0 216.3,455.8 216.8,458.5 217.3,461.0 217.8,463.5 218.3,465.8 218.7,467.9 219.2,470.0 219.7,472.0 220.2,473.8 220.7,475.6 221.1,477.2 221.6,478.7 222.0,480.0 222.3,481.1 222.6,482.0 224.6,482.0" fill="#ff6a6a" />
<polygon points="224.6,419.5 215.3,419.5 215.3,421.5 215.6,423.8 215.9,426.9 216.3,430.6 216.8,434.6 217.2,438.8 217.7,442.9 218.2,446.7 218.7,450.0 219.2,452.9 219.7,455.7 220.3,458.3 220.9,460.8 221.4,463.0 221.9,465.0 222.3,466.7 222.6,468.0 224.6,468.0" fill="#ff5555" />
<polygon points="224.6,419.5 218.1,419.5 218.1,421.5 218.3,423.0 218.5,425.1 218.7,427.6 219.0,430.4 219.3,433.2 219.6,436.1 219.9,438.7 220.2,441.0 220.5,443.1 220.8,445.2 221.2,447.3 221.5,449.2 221.9,451.0 222.2,452.6 222.4,454.0 222.6,455.0 224.6,455.0" fill="#ff4040" />
<polygon points="224.6,419.5 220.5,419.5 220.5,421.5 220.6,422.3 220.7,423.4 220.8,424.7 220.9,426.2 221.1,427.7 221.2,429.2 221.4,430.7 221.5,432.0 221.6,433.3 221.8,434.6 222.0,435.9 222.1,437.2 222.3,438.4 222.4,439.4 222.5,440.3 222.6,441.0 224.6,441.0" fill="#ff2b2b" />
<polygon points="224.6,419.5 222.0,419.5 222.0,421.5 222.0,421.7 222.1,421.9 222.1,422.2 222.1,422.5 222.2,422.8 222.2,423.2 222.3,423.6 222.3,424.0 222.3,424.5 222.4,425.0 222.4,425.6 222.5,426.2 222.5,426.7 222.5,427.2 222.6,427.7 222.6,428.0 224.6,428.0" fill="#ff1515" />
<polygon points="128.0,419.5 128.0,419.6 128.0,419.7 128.0,419.8 128.0,420.0 127.9,420.2 127.9,420.5 128.0,420.9 128.0,421.5 128.1,422.3 128.1,423.2 128.2,424.2 128.3,425.4 128.4,426.6 128.5,427.8 128.7,429.0 128.8,430.1 129.0,431.2 129.1,432.3 129.3,433.5 129.5,434.6 129.7,435.8 129.9,436.9 130.2,438.0 130.4,439.1 130.6,440.2 130.9,441.3 131.2,442.3 131.5,443.4 131.7,444.4 132.0,445.4 132.3,446.2 132.5,447.0 132.7,447.6 132.9,448.2 133.1,448.7 133.2,449.1 133.4,449.4 133.6,449.7 133.7,450.0 133.9,450.3 134.1,450.6 134.3,450.9 134.5,451.1 134.7,451.3 134.9,451.5 135.1,451.7 135.3,451.8 135.5,451.8 135.7,451.8 135.9,451.7 136.1,451.6 136.3,451.4 136.5,451.2 136.7,451.0 136.9,450.7 137.1,450.4 137.3,450.1 137.5,449.7 137.7,449.3 137.9,448.8 138.1,448.4 138.2,447.9 138.4,447.4 138.6,447.0 138.8,446.6 138.9,446.2 139.1,445.8 139.2,445.4 139.4,445.0 139.5,444.5 139.6,444.0 139.8,443.5 140.0,442.9 140.1,442.3 140.3,441.7 140.4,441.0 140.6,440.3 140.8,439.5 140.9,438.7 141.1,437.9 141.3,437.0 141.5,436.1 141.6,435.2 141.8,434.2 142.0,433.2 142.2,432.2 142.4,431.1 142.5,430.1 142.6,429.0 142.8,427.9 142.9,426.6 143.0,425.4 143.1,424.3 143.2,423.2 143.2,422.3 143.3,421.5 143.3,420.9 143.4,420.5 143.4,420.2 143.4,420.0 143.3,419.8 143.3,419.7 143.3,419.6 143.3,419.5" fill="#ffeaea" />
<polygon points="224.6,697.3 224.6,591.8 222.6,591.8 222.2,592.0 221.6,592.1 221.0,592.4 220.2,592.6 219.4,592.9 218.6,593.2 217.8,593.6 217.0,593.9 216.2,594.2 215.4,594.6 214.5,595.0 213.6,595.3 212.8,595.8 211.9,596.2 211.0,596.8 210.1,597.4 209.2,598.1 208.3,598.9 207.4,599.7 206.5,600.6 205.6,601.6 204.7,602.5 203.9,603.5 203.1,604.4 202.4,605.3 201.7,606.2 201.0,607.1 200.3,608.0 199.7,609.0 199.1,610.0 198.5,611.0 197.9,612.2 197.3,613.4 196.7,614.7 196.2,616.0 195.6,617.4 195.0,618.9 194.5,620.4 194.0,621.9 193.5,623.6 193.0,625.3 192.5,627.1 192.1,629.0 191.6,630.9 191.2,632.9 190.8,634.9 190.4,637.0 190.0,639.2 189.6,641.4 189.3,643.7 188.9,646.1 188.6,648.6 188.3,651.0 188.0,653.5 187.7,656.0 187.4,658.4 187.1,660.8 186.9,663.2 186.7,665.7 186.4,668.1 186.2,670.5 186.0,672.9 185.9,675.3 185.7,677.6 185.5,680.0 185.4,682.5 185.3,685.1 185.1,687.7 185.0,690.0 184.9,692.2 184.9,693.9 184.8,695.3 184.8,697.3" fill="#dfdfff" />
<polygon points="224.6,697.3 224.6,609.6 222.6,609.6 222.2,609.9 221.6,610.3 220.9,610.8 220.1,611.4 219.3,612.0 218.5,612.6 217.7,613.3 217.0,614.0 216.3,614.7 215.7,615.5 215.0,616.3 214.3,617.2 213.7,618.1 213.0,619.0 212.4,619.9 211.8,620.9 211.2,621.9 210.7,622.9 210.1,623.9 209.6,624.9 209.1,626.0 208.6,627.2 208.0,628.4 207.5,629.7 207.0,631.1 206.4,632.6 205.9,634.1 205.3,635.7 204.8,637.3 204.2,639.0 203.7,640.8 203.1,642.7 202.5,644.7 202.0,646.7 201.4,648.9 200.8,651.1 200.2,653.4 199.7,655.6 199.2,657.9 198.7,660.1 198.3,662.3 197.8,664.5 197.5,666.6 197.1,668.8 196.7,671.0 196.4,673.2 196.1,675.4 195.8,677.6 195.5,679.9 195.2,682.4 194.9,685.0 194.7,687.5 194.4,690.0 194.2,692.1 194.0,693.9 193.9,695.3 193.9,697.3" fill="#bfbfff" />
<polygon points="224.6,697.3 224.6,628.8 222.6,628.8 222.2,629.3 221.7,630.0 221.2,630.8 220.5,631.6 219.8,632.6 219.2,633.6 218.5,634.7 217.9,635.7 217.3,636.7 216.8,637.8 216.3,638.9 215.7,640.1 215.2,641.3 214.7,642.6 214.1,643.9 213.6,645.3 213.0,646.8 212.5,648.3 211.9,649.9 211.3,651.6 210.8,653.3 210.2,655.0 209.7,656.7 209.2,658.4 208.7,660.1 208.2,661.8 207.8,663.5 207.4,665.3 206.9,667.0 206.5,668.8 206.1,670.6 205.7,672.3 205.3,674.1 204.9,675.9 204.5,677.8 204.1,679.6 203.8,681.4 203.4,683.1 203.1,684.8 202.8,686.3 202.5,687.7 202.3,689.1 202.1,690.4 201.9,691.7 201.8,692.8 201.6,693.8 201.5,694.6 201.4,695.3 201.4,697.3" fill="#9f9fff" />
<polygon points="224.6,697.3 224.6,648.8 222.6,648.8 222.3,649.4 221.9,650.2 221.4,651.1 220.9,652.1 220.4,653.2 219.8,654.4 219.3,655.5 218.8,656.7 218.3,657.9 217.9,659.0 217.5,660.3 217.0,661.5 216.6,662.8 216.2,664.2 215.7,665.6 215.3,667.1 214.9,668.7 214.4,670.3 213.9,672.0 213.5,673.8 213.0,675.6 212.6,677.4 212.2,679.2 211.8,681.0 211.4,682.9 211.0,684.9 210.6,687.0 210.3,689.0 209.9,691.0 209.6,692.7 209.4,694.2 209.2,695.3 209.2,697.3" fill="#8080ff" />
<polygon points="224.6,697.3 224.6,672.3 222.6,672.3 222.4,672.9 222.1,673.7 221.7,674.6 221.3,675.7 220.9,676.8 220.5,678.0 220.1,679.1 219.7,680.2 219.3,681.3 219.0,682.4 218.6,683.5 218.3,684.6 218.0,685.8 217.6,686.9 217.3,687.9 217.0,688.9 216.7,689.9 216.4,690.8 216.1,691.7 215.8,692.6 215.5,693.5 215.3,694.2 215.1,694.8 214.9,695.3 214.9,697.3" fill="#6060ff" />
</g>
<g class="ax">
<rect x="54.2" y="421.5" width="168.4" height="273.8" fill="none" stroke="#000" stroke-opacity="0.62" stroke-width="0.9"/>
<line x1="47.3" y1="695.3" x2="207.3" y2="695.3" style="stroke:#000;stroke-opacity:0.35"/>
<line x1="47.3" y1="695.4" x2="54.2" y2="695.4" />
<line x1="47.3" y1="642.6" x2="54.2" y2="642.6" />
<line x1="47.3" y1="589.9" x2="54.2" y2="589.9" />
<line x1="47.3" y1="537.1" x2="54.2" y2="537.1" />
<line x1="47.3" y1="484.4" x2="54.2" y2="484.4" />
<line x1="47.3" y1="431.6" x2="54.2" y2="431.6" />
<line x1="76.8" y1="695.3" x2="76.8" y2="702.3" />
<line x1="102.9" y1="695.3" x2="102.9" y2="702.3" />
<line x1="129.0" y1="695.3" x2="129.0" y2="702.3" />
<line x1="155.1" y1="695.3" x2="155.1" y2="702.3" />
<line x1="181.2" y1="695.3" x2="181.2" y2="702.3" />
<line x1="207.3" y1="695.3" x2="207.3" y2="702.3" />
</g>
<g class="t2" text-anchor="end">
<text transform="translate(41.3,700.0) scale(1.07,1)">0</text>
<text transform="translate(41.3,647.2) scale(1.07,1)">10</text>
<text transform="translate(41.3,594.5) scale(1.07,1)">20</text>
<text transform="translate(41.3,541.8) scale(1.07,1)">30</text>
<text transform="translate(41.3,489.0) scale(1.07,1)">40</text>
<text transform="translate(41.3,436.2) scale(1.07,1)">50</text>
</g>
<g class="t2" text-anchor="middle">
<text transform="translate(76.8,719.6) scale(1.07,1)">20</text>
<text transform="translate(102.9,719.6) scale(1.07,1)">30</text>
<text transform="translate(129.0,719.6) scale(1.07,1)">40</text>
<text transform="translate(155.1,719.6) scale(1.07,1)">50</text>
<text transform="translate(181.2,719.6) scale(1.07,1)">60</text>
<text transform="translate(207.3,719.6) scale(1.07,1)">70</text>
<text transform="translate(138.4,745.5) scale(1.07,1)">Total sunshine hours</text>
<text transform="translate(12,558.2) rotate(-90) scale(1.07,1)">Lag (weeks)</text>
</g>
<rect x="249.0" y="682.36" width="26.9" height="13.04" fill="#0000ff" stroke="#000" stroke-opacity="0.85" stroke-width="0.6"/>
<rect x="249.0" y="669.31" width="26.9" height="13.04" fill="#2020ff" stroke="#000" stroke-opacity="0.85" stroke-width="0.6"/>
<rect x="249.0" y="656.27" width="26.9" height="13.04" fill="#4040ff" stroke="#000" stroke-opacity="0.85" stroke-width="0.6"/>
<rect x="249.0" y="643.23" width="26.9" height="13.04" fill="#6060ff" stroke="#000" stroke-opacity="0.85" stroke-width="0.6"/>
<rect x="249.0" y="630.19" width="26.9" height="13.04" fill="#8080ff" stroke="#000" stroke-opacity="0.85" stroke-width="0.6"/>
<rect x="249.0" y="617.14" width="26.9" height="13.04" fill="#9f9fff" stroke="#000" stroke-opacity="0.85" stroke-width="0.6"/>
<rect x="249.0" y="604.10" width="26.9" height="13.04" fill="#bfbfff" stroke="#000" stroke-opacity="0.85" stroke-width="0.6"/>
<rect x="249.0" y="591.06" width="26.9" height="13.04" fill="#dfdfff" stroke="#000" stroke-opacity="0.85" stroke-width="0.6"/>
<rect x="249.0" y="578.01" width="26.9" height="13.04" fill="#ffffff" stroke="#000" stroke-opacity="0.85" stroke-width="0.6"/>
<rect x="249.0" y="564.97" width="26.9" height="13.04" fill="#ffffff" stroke="#000" stroke-opacity="0.85" stroke-width="0.6"/>
<rect x="249.0" y="551.93" width="26.9" height="13.04" fill="#ffeaea" stroke="#000" stroke-opacity="0.85" stroke-width="0.6"/>
<rect x="249.0" y="538.89" width="26.9" height="13.04" fill="#ffd5d5" stroke="#000" stroke-opacity="0.85" stroke-width="0.6"/>
<rect x="249.0" y="525.84" width="26.9" height="13.04" fill="#ffbfbf" stroke="#000" stroke-opacity="0.85" stroke-width="0.6"/>
<rect x="249.0" y="512.80" width="26.9" height="13.04" fill="#ffaaaa" stroke="#000" stroke-opacity="0.85" stroke-width="0.6"/>
<rect x="249.0" y="499.76" width="26.9" height="13.04" fill="#ff9595" stroke="#000" stroke-opacity="0.85" stroke-width="0.6"/>
<rect x="249.0" y="486.71" width="26.9" height="13.04" fill="#ff8080" stroke="#000" stroke-opacity="0.85" stroke-width="0.6"/>
<rect x="249.0" y="473.67" width="26.9" height="13.04" fill="#ff6a6a" stroke="#000" stroke-opacity="0.85" stroke-width="0.6"/>
<rect x="249.0" y="460.63" width="26.9" height="13.04" fill="#ff5555" stroke="#000" stroke-opacity="0.85" stroke-width="0.6"/>
<rect x="249.0" y="447.59" width="26.9" height="13.04" fill="#ff4040" stroke="#000" stroke-opacity="0.85" stroke-width="0.6"/>
<rect x="249.0" y="434.54" width="26.9" height="13.04" fill="#ff2b2b" stroke="#000" stroke-opacity="0.85" stroke-width="0.6"/>
<rect x="249.0" y="421.50" width="26.9" height="13.04" fill="#ff1515" stroke="#000" stroke-opacity="0.85" stroke-width="0.6"/>
<g class="ax">
<line x1="275.9" y1="421.5" x2="282.3" y2="421.5" />
<line x1="275.9" y1="473.7" x2="282.3" y2="473.7" />
<line x1="275.9" y1="525.8" x2="282.3" y2="525.8" />
<line x1="275.9" y1="578.0" x2="282.3" y2="578.0" />
<line x1="275.9" y1="630.2" x2="282.3" y2="630.2" />
<line x1="275.9" y1="682.4" x2="282.3" y2="682.4" />
</g>
<g class="t2">
<text transform="translate(288.9,425.7) scale(1.07,1)">1.6</text>
<text transform="translate(288.9,477.9) scale(1.07,1)">1.4</text>
<text transform="translate(288.9,530.0) scale(1.07,1)">1.2</text>
<text transform="translate(288.9,582.2) scale(1.07,1)">1.0</text>
<text transform="translate(288.9,634.4) scale(1.07,1)">0.8</text>
<text transform="translate(288.9,686.6) scale(1.07,1)">0.6</text>
</g>
<text transform="translate(262.7,399.6) scale(1.06,1)" text-anchor="middle" font-weight="bold" font-size="12.6px" style="fill:#000">RR</text>
<defs><clipPath id="c4"><rect x="421.7" y="427.6" width="162.2" height="264.1"/></clipPath></defs>
<g clip-path="url(#c4)">
<polygon points="419.7,425.6 441.0,425.6 441.0,427.6 441.0,430.0 440.9,433.2 440.8,437.0 440.7,441.3 440.6,445.9 440.5,450.6 440.4,455.4 440.3,460.0 440.2,464.6 440.1,469.5 439.9,474.4 439.8,479.5 439.6,484.7 439.5,489.8 439.2,494.9 439.0,500.0 438.7,505.0 438.4,510.1 438.0,515.2 437.7,520.3 437.3,525.4 436.9,530.4 436.4,535.2 436.0,540.0 435.5,544.8 435.0,549.7 434.5,554.6 433.9,559.4 433.4,563.9 432.9,568.1 432.4,571.9 432.0,575.0 431.7,577.4 431.4,579.2 431.2,580.5 431.0,581.5 430.9,582.2 430.7,583.0 430.5,583.8 430.2,585.0 429.9,586.4 429.6,587.9 429.2,589.4 428.9,590.9 428.5,592.4 428.1,593.9 427.8,595.3 427.4,596.7 427.1,598.0 426.7,599.2 426.4,600.4 426.0,601.5 425.7,602.6 425.3,603.8 425.0,604.9 424.6,606.1 424.2,607.4 423.8,608.8 423.4,610.2 423.0,611.6 422.6,613.0 422.2,614.2 421.9,615.2 421.7,616.0 419.7,616.0" fill="#ffdfdf" />
<polygon points="419.7,425.6 438.1,425.6 438.1,427.6 438.0,430.0 437.8,433.2 437.6,437.0 437.4,441.3 437.1,445.9 436.9,450.6 436.6,455.4 436.4,460.0 436.2,464.6 435.9,469.5 435.7,474.4 435.4,479.5 435.1,484.7 434.9,489.8 434.5,494.9 434.2,500.0 433.8,505.0 433.5,510.1 433.1,515.2 432.7,520.3 432.3,525.4 431.8,530.4 431.3,535.2 430.7,540.0 430.0,544.8 429.3,549.7 428.5,554.6 427.6,559.4 426.8,564.0 426.0,568.2 425.2,571.9 424.6,575.0 424.1,577.4 423.6,579.3 423.2,580.7 422.8,581.7 422.4,582.4 422.1,583.0 421.9,583.5 421.7,584.0 419.7,584.0" fill="#ffbfbf" />
<polygon points="419.7,425.6 435.1,425.6 435.1,427.6 434.9,430.0 434.7,433.2 434.5,437.0 434.2,441.3 433.9,445.9 433.6,450.6 433.2,455.4 432.9,460.0 432.6,464.6 432.3,469.5 432.0,474.4 431.6,479.5 431.3,484.7 430.9,489.8 430.5,494.9 430.0,500.0 429.5,505.1 428.9,510.5 428.2,515.9 427.5,521.2 426.8,526.5 426.2,531.4 425.6,536.0 425.0,540.0 424.5,543.6 424.0,546.9 423.5,549.8 423.0,552.5 422.6,554.8 422.3,556.9 421.9,558.6 421.7,560.0 419.7,560.0" fill="#ff9f9f" />
<polygon points="419.7,425.6 432.5,425.6 432.5,427.6 432.3,430.0 432.0,433.2 431.7,437.0 431.4,441.3 431.0,445.9 430.6,450.6 430.2,455.4 429.8,460.0 429.4,464.7 428.9,469.6 428.4,474.6 427.9,479.8 427.4,485.0 426.9,490.1 426.4,495.1 425.9,500.0 425.4,504.9 424.8,510.1 424.2,515.4 423.6,520.5 423.0,525.3 422.5,529.6 422.0,533.2 421.7,536.0 419.7,536.0" fill="#ff8080" />
<polygon points="419.7,425.6 429.2,425.6 429.2,427.6 429.0,430.0 428.8,433.2 428.5,437.0 428.2,441.3 427.9,445.9 427.6,450.6 427.2,455.4 426.8,460.0 426.4,464.8 425.9,470.1 425.4,475.7 424.8,481.3 424.3,486.7 423.8,491.8 423.4,496.3 423.0,500.0 422.7,502.9 422.5,505.2 422.3,507.1 422.1,508.5 422.0,509.6 421.9,510.5 421.8,511.3 421.7,512.0 419.7,512.0" fill="#ff6060" />
<polygon points="419.7,425.6 426.6,425.6 426.6,427.6 426.4,430.2 426.1,433.7 425.7,437.8 425.3,442.4 424.8,447.2 424.4,451.9 424.0,456.2 423.7,460.0 423.4,463.4 423.1,466.7 422.8,470.0 422.5,473.0 422.3,475.8 422.0,478.3 421.8,480.4 421.7,482.0 419.7,482.0" fill="#ff4040" />
<polygon points="419.7,425.6 423.9,425.6 423.9,427.6 423.8,428.5 423.7,429.7 423.6,431.1 423.4,432.6 423.3,434.3 423.1,435.9 422.9,437.5 422.8,439.0 422.7,440.5 422.5,442.0 422.3,443.6 422.2,445.2 422.0,446.7 421.9,448.0 421.8,449.2 421.7,450.0 419.7,450.0" fill="#ff2020" />
<polygon points="448.0,425.6 448.0,425.4 448.0,424.6 448.0,423.6 448.0,422.8 448.0,422.5 448.0,422.9 448.0,424.5 448.0,427.6 448.0,432.4 448.0,438.7 448.0,446.2 448.0,454.5 448.0,463.1 448.0,471.9 448.0,480.3 448.0,488.0 448.0,495.2 448.0,502.5 448.1,509.6 448.1,516.7 448.1,523.6 448.2,530.5 448.2,537.1 448.2,543.6 448.2,550.0 448.2,556.4 448.2,562.7 448.3,568.9 448.3,574.8 448.3,580.3 448.2,585.4 448.2,590.0 448.2,593.9 448.1,597.2 448.0,600.1 447.9,602.6 447.9,604.9 447.7,607.1 447.6,609.5 447.5,612.1 447.4,614.9 447.2,617.8 447.0,620.7 446.8,623.6 446.6,626.5 446.4,629.2 446.2,631.8 446.0,634.2 445.8,636.4 445.6,638.5 445.5,640.4 445.3,642.3 445.1,644.0 444.9,645.7 444.7,647.3 444.5,648.9 444.3,650.4 444.0,651.9 443.8,653.2 443.5,654.5 443.3,655.7 443.0,656.9 442.7,658.1 442.3,659.2 441.9,660.3 441.5,661.3 441.1,662.3 440.7,663.2 440.2,664.1 439.7,664.9 439.2,665.8 438.6,666.6 438.0,667.4 437.3,668.3 436.5,669.1 435.8,669.9 435.0,670.6 434.2,671.3 433.5,671.9 432.7,672.5 432.0,673.0 431.2,673.4 430.5,673.8 429.7,674.1 429.0,674.4 428.2,674.6 427.5,674.9 426.8,675.1 426.1,675.3 425.4,675.5 424.7,675.7 424.0,675.8 423.4,675.9 422.8,676.0 422.2,676.1 421.7,676.2 421.3,676.3 420.9,676.3 420.6,676.4 420.3,676.4 420.0,676.4 419.8,676.5 419.6,676.5 419.5,676.5 419.5,693.7 456.0,693.7 456.0,693.5 455.9,693.3 455.9,693.1 455.8,692.8 455.8,692.5 455.8,692.1 455.9,691.7 456.0,691.3 456.2,690.8 456.4,690.3 456.7,689.7 457.0,689.1 457.4,688.4 457.7,687.8 458.1,687.1 458.5,686.5 458.9,685.9 459.3,685.3 459.6,684.6 460.0,684.0 460.5,683.4 461.0,682.7 461.6,682.0 462.2,681.3 462.9,680.5 463.8,679.7 464.7,678.9 465.6,678.1 466.6,677.2 467.6,676.4 468.6,675.5 469.5,674.7 470.4,673.9 471.4,673.1 472.3,672.3 473.3,671.5 474.2,670.6 475.2,669.8 476.0,669.0 476.9,668.1 477.7,667.2 478.5,666.4 479.3,665.6 480.0,664.7 480.7,663.8 481.4,662.9 482.1,661.8 482.8,660.7 483.5,659.5 484.2,658.1 484.9,656.7 485.5,655.3 486.2,653.7 486.8,652.2 487.4,650.5 488.0,648.9 488.5,647.2 489.0,645.4 489.5,643.6 490.0,641.7 490.4,639.8 490.8,637.9 491.2,636.1 491.6,634.2 491.9,632.4 492.3,630.5 492.6,628.7 492.8,626.9 493.1,625.0 493.3,623.2 493.6,621.3 493.8,619.5 494.0,617.7 494.2,615.8 494.4,614.0 494.6,612.1 494.8,610.2 495.0,608.4 495.2,606.5 495.3,604.7 495.4,603.0 495.5,601.4 495.6,599.9 495.7,598.3 495.7,596.6 495.8,594.7 495.9,592.6 496.1,590.0 496.3,587.0 496.6,583.6 496.9,579.9 497.2,576.0 497.5,571.9 497.8,567.9 498.1,563.9 498.3,560.0 498.5,556.3 498.7,552.8 498.8,549.3 499.0,545.7 499.1,542.1 499.2,538.3 499.4,534.3 499.5,530.0 499.6,525.5 499.8,520.8 500.0,516.0 500.1,511.0 500.2,505.8 500.4,500.2 500.5,494.4 500.6,488.2 500.7,481.1 500.8,473.0 500.8,464.3 500.9,455.4 500.9,446.9 500.9,439.1 501.0,432.5 501.0,427.6 501.0,424.5 501.0,422.9 501.0,422.5 501.0,422.8 501.0,423.6 501.0,424.6 501.0,425.4 501.0,425.6" fill="#eeeeff" />
<polygon points="452.9,425.6 452.9,425.6 452.9,425.3 452.9,425.0 452.9,424.8 452.9,424.8 452.9,425.2 452.9,426.1 452.9,427.6 452.9,429.9 453.0,432.8 453.0,436.2 453.0,440.0 453.1,444.0 453.1,448.1 453.2,452.2 453.3,456.1 453.4,459.9 453.5,463.9 453.7,467.9 453.9,471.9 454.0,476.0 454.2,480.1 454.3,484.2 454.5,488.2 454.6,492.3 454.8,496.5 454.9,500.7 455.1,504.9 455.2,509.0 455.3,513.0 455.5,516.8 455.6,520.4 455.7,523.7 455.8,526.9 455.9,529.8 456.1,532.7 456.2,535.4 456.3,538.1 456.4,540.8 456.6,543.6 456.8,546.3 457.0,549.0 457.2,551.6 457.4,554.2 457.6,556.8 457.9,559.4 458.2,562.2 458.5,565.0 458.9,568.1 459.3,571.4 459.8,574.9 460.3,578.4 460.8,581.8 461.3,584.9 461.8,587.7 462.2,590.0 462.5,591.8 462.8,593.1 463.1,594.1 463.3,594.8 463.6,595.5 463.8,596.0 464.1,596.6 464.4,597.4 464.7,598.3 465.0,599.2 465.3,600.0 465.7,600.9 466.0,601.7 466.4,602.5 466.8,603.3 467.3,604.0 467.8,604.7 468.5,605.4 469.1,606.1 469.8,606.8 470.5,607.4 471.2,607.9 471.9,608.2 472.5,608.4 473.1,608.4 473.7,608.3 474.2,608.0 474.8,607.6 475.3,607.2 475.9,606.7 476.4,606.1 476.9,605.5 477.4,604.9 477.9,604.1 478.4,603.4 478.8,602.5 479.3,601.6 479.7,600.7 480.2,599.8 480.6,598.8 481.0,597.9 481.3,597.1 481.7,596.4 482.0,595.5 482.3,594.6 482.7,593.4 483.1,591.9 483.5,590.0 484.0,587.6 484.6,584.8 485.2,581.7 485.8,578.3 486.4,574.8 487.0,571.4 487.6,568.1 488.2,565.0 488.7,562.2 489.3,559.4 489.9,556.8 490.4,554.2 490.9,551.6 491.4,549.0 491.8,546.3 492.2,543.6 492.5,540.8 492.8,538.1 493.0,535.4 493.1,532.7 493.3,529.8 493.4,526.9 493.6,523.7 493.8,520.4 494.0,516.8 494.3,513.0 494.5,509.0 494.8,504.9 495.0,500.7 495.3,496.5 495.5,492.3 495.7,488.2 495.9,484.2 496.1,480.1 496.3,476.0 496.4,471.9 496.6,467.9 496.7,463.9 496.9,459.9 497.0,456.1 497.1,452.2 497.3,448.1 497.4,444.0 497.5,440.0 497.6,436.2 497.7,432.8 497.7,429.9 497.8,427.6 497.8,426.1 497.9,425.2 497.9,424.8 497.9,424.8 497.8,425.0 497.8,425.3 497.8,425.6 497.8,425.6" fill="#ddddff" />
<polygon points="457.7,425.6 457.7,425.6 457.7,425.5 457.7,425.4 457.7,425.3 457.6,425.4 457.6,425.8 457.7,426.5 457.7,427.6 457.8,429.3 457.8,431.3 457.9,433.8 458.0,436.5 458.1,439.3 458.2,442.3 458.4,445.2 458.5,448.1 458.7,450.9 458.8,453.9 459.0,456.9 459.2,459.9 459.4,463.0 459.6,466.1 459.9,469.2 460.1,472.2 460.4,475.2 460.6,478.3 460.9,481.4 461.2,484.5 461.5,487.5 461.8,490.5 462.2,493.4 462.5,496.3 462.9,499.1 463.2,501.8 463.6,504.5 464.0,507.2 464.4,509.8 464.8,512.3 465.3,514.7 465.7,517.1 466.2,519.4 466.7,521.6 467.2,523.8 467.7,526.0 468.3,528.0 468.8,529.9 469.3,531.6 469.7,533.2 470.1,534.6 470.5,535.8 470.8,536.9 471.2,537.8 471.5,538.7 471.8,539.5 472.1,540.2 472.5,541.0 472.9,541.8 473.2,542.6 473.6,543.3 474.0,544.0 474.4,544.6 474.7,545.1 475.1,545.4 475.5,545.5 475.9,545.4 476.3,545.0 476.7,544.5 477.1,543.9 477.5,543.2 477.8,542.5 478.2,541.7 478.5,541.0 478.8,540.4 479.0,539.8 479.1,539.3 479.3,538.7 479.5,538.0 479.6,537.2 479.9,536.1 480.2,534.8 480.6,533.2 481.0,531.3 481.6,529.1 482.1,526.9 482.6,524.5 483.2,522.0 483.7,519.5 484.2,517.1 484.7,514.7 485.1,512.2 485.6,509.7 486.0,507.1 486.5,504.5 486.9,501.8 487.3,499.1 487.7,496.3 488.1,493.4 488.5,490.5 488.9,487.5 489.2,484.5 489.6,481.4 490.0,478.3 490.3,475.2 490.6,472.2 490.9,469.2 491.2,466.1 491.4,463.0 491.7,459.9 491.9,456.9 492.1,453.9 492.3,450.9 492.5,448.1 492.7,445.2 492.8,442.3 493.0,439.3 493.1,436.5 493.2,433.8 493.3,431.3 493.4,429.3 493.5,427.6 493.5,426.5 493.6,425.8 493.6,425.4 493.6,425.3 493.5,425.4 493.5,425.5 493.5,425.6 493.5,425.6" fill="#ccccff" />
<polygon points="464.1,425.6 464.1,425.7 464.1,425.7 464.0,425.7 464.0,425.8 464.0,426.0 464.0,426.3 464.0,426.8 464.1,427.6 464.2,428.6 464.4,429.9 464.5,431.4 464.8,433.0 465.0,434.7 465.2,436.5 465.5,438.3 465.7,440.1 466.0,441.9 466.2,443.9 466.5,445.9 466.8,448.0 467.1,450.1 467.4,452.1 467.8,454.1 468.1,456.1 468.5,458.0 468.9,460.0 469.3,462.0 469.7,463.9 470.1,465.8 470.5,467.5 470.9,469.2 471.3,470.6 471.6,471.9 472.0,473.0 472.3,473.9 472.6,474.8 472.9,475.5 473.2,476.2 473.5,476.9 473.8,477.5 474.1,478.1 474.4,478.7 474.7,479.2 474.9,479.6 475.2,480.0 475.5,480.3 475.8,480.4 476.1,480.5 476.4,480.4 476.7,480.3 477.0,480.0 477.3,479.6 477.7,479.2 478.0,478.7 478.3,478.1 478.6,477.5 478.9,476.9 479.2,476.2 479.5,475.5 479.8,474.8 480.0,473.9 480.3,473.0 480.7,471.9 481.0,470.6 481.4,469.2 481.8,467.5 482.2,465.8 482.6,463.9 483.0,462.0 483.4,460.0 483.8,458.0 484.2,456.1 484.6,454.1 485.0,452.1 485.4,450.1 485.8,448.0 486.2,445.9 486.5,443.9 486.8,441.9 487.1,440.1 487.3,438.3 487.5,436.5 487.7,434.7 487.8,433.0 487.9,431.4 488.0,429.9 488.1,428.6 488.2,427.6 488.3,426.8 488.3,426.3 488.3,426.0 488.3,425.8 488.2,425.7 488.2,425.7 488.2,425.7 488.2,425.6" fill="#bbbbff" />
<polygon points="507.4,425.6 507.4,425.5 507.4,425.0 507.4,424.3 507.3,423.8 507.3,423.6 507.3,424.1 507.4,425.3 507.4,427.6 507.5,431.1 507.6,435.7 507.7,441.0 507.8,447.0 507.9,453.3 508.0,459.8 508.2,466.2 508.3,472.2 508.4,478.2 508.6,484.5 508.8,491.0 509.0,497.5 509.1,503.8 509.3,509.8 509.5,515.4 509.6,520.4 509.7,524.8 509.8,528.6 509.9,532.1 510.0,535.3 510.0,538.2 510.1,540.9 510.2,543.5 510.3,546.1 510.4,548.6 510.5,550.8 510.7,552.9 510.8,554.8 510.9,556.7 511.1,558.5 511.2,560.3 511.4,562.1 511.6,564.0 511.8,565.8 511.9,567.7 512.1,569.4 512.3,571.2 512.5,572.9 512.8,574.5 513.0,576.0 513.2,577.4 513.5,578.8 513.8,580.1 514.0,581.4 514.3,582.5 514.6,583.6 514.9,584.7 515.2,585.7 515.5,586.7 515.9,587.7 516.3,588.6 516.6,589.5 517.0,590.2 517.4,590.9 517.8,591.3 518.1,591.6 518.4,591.7 518.7,591.6 519.0,591.3 519.3,590.9 519.6,590.4 519.9,589.8 520.2,589.1 520.5,588.4 520.8,587.6 521.1,586.8 521.5,585.9 521.8,584.9 522.1,583.8 522.5,582.7 522.8,581.5 523.2,580.3 523.6,579.0 524.0,577.7 524.4,576.2 524.8,574.8 525.2,573.2 525.6,571.7 526.0,570.1 526.4,568.5 526.8,566.9 527.1,565.2 527.5,563.4 527.8,561.7 528.2,559.9 528.5,558.1 528.8,556.4 529.1,554.6 529.4,552.8 529.7,551.0 530.0,549.2 530.2,547.5 530.5,545.7 530.7,544.0 531.0,542.3 531.2,540.7 531.4,539.2 531.6,537.8 531.8,536.4 532.0,535.1 532.1,533.8 532.3,532.6 532.4,531.3 532.6,530.0 532.7,528.9 532.8,527.9 532.9,527.1 533.0,526.2 533.1,525.2 533.2,523.9 533.4,522.2 533.6,520.0 533.9,517.2 534.2,514.0 534.6,510.4 535.0,506.5 535.4,502.4 535.8,498.2 536.2,494.1 536.6,490.0 537.0,485.9 537.4,481.6 537.7,477.3 538.1,472.9 538.5,468.5 538.8,464.2 539.1,460.0 539.4,456.0 539.6,452.0 539.8,447.9 540.0,443.8 540.2,439.8 540.3,436.1 540.4,432.7 540.5,429.8 540.6,427.6 540.7,426.1 540.7,425.2 540.7,424.8 540.7,424.8 540.7,425.0 540.6,425.3 540.6,425.6 540.6,425.6" fill="#ffdfdf" />
<polygon points="511.4,425.6 511.4,425.6 511.4,425.3 511.4,425.0 511.3,424.8 511.3,424.8 511.3,425.2 511.4,426.1 511.4,427.6 511.5,429.9 511.5,433.0 511.6,436.5 511.8,440.5 511.9,444.6 512.0,448.7 512.1,452.6 512.3,456.1 512.5,459.3 512.6,462.5 512.8,465.6 513.0,468.6 513.2,471.6 513.4,474.5 513.7,477.4 513.9,480.2 514.2,483.0 514.4,485.8 514.7,488.6 515.0,491.4 515.4,494.0 515.7,496.5 516.0,498.9 516.3,501.1 516.6,503.1 516.9,505.0 517.2,506.8 517.5,508.4 517.8,509.9 518.1,511.4 518.4,512.7 518.7,513.9 519.0,515.0 519.2,516.1 519.5,517.1 519.8,517.9 520.0,518.7 520.3,519.3 520.5,519.7 520.8,520.0 521.1,520.1 521.3,519.9 521.6,519.5 521.8,519.1 522.1,518.5 522.3,518.0 522.6,517.4 522.8,517.0 523.0,516.7 523.2,516.5 523.3,516.3 523.4,516.1 523.6,515.8 523.8,515.4 524.0,514.8 524.3,513.9 524.7,512.8 525.1,511.6 525.6,510.2 526.2,508.6 526.7,506.9 527.3,505.1 527.8,503.2 528.3,501.1 528.8,498.9 529.3,496.5 529.7,494.0 530.2,491.4 530.7,488.6 531.1,485.8 531.6,483.0 532.0,480.2 532.4,477.4 532.8,474.5 533.2,471.6 533.5,468.6 533.9,465.6 534.2,462.5 534.5,459.3 534.8,456.1 535.0,452.6 535.3,448.7 535.5,444.6 535.6,440.5 535.8,436.5 535.9,433.0 536.0,429.9 536.1,427.6 536.2,426.1 536.2,425.2 536.2,424.8 536.2,424.8 536.2,425.0 536.1,425.3 536.1,425.6 536.1,425.6" fill="#ffbfbf" />
<polygon points="517.0,425.6 517.0,425.7 517.0,425.8 517.0,425.9 516.9,426.0 516.9,426.2 516.9,426.5 517.0,427.0 517.0,427.6 517.1,428.4 517.1,429.4 517.2,430.5 517.3,431.7 517.4,433.0 517.6,434.3 517.7,435.6 517.9,436.8 518.1,438.0 518.3,439.3 518.5,440.6 518.8,441.9 519.1,443.1 519.3,444.4 519.6,445.5 519.8,446.5 520.0,447.4 520.3,448.2 520.5,449.0 520.7,449.7 520.9,450.3 521.1,450.9 521.3,451.5 521.5,452.0 521.7,452.5 521.8,453.0 522.0,453.4 522.1,453.8 522.3,454.1 522.4,454.3 522.5,454.4 522.7,454.5 522.8,454.4 523.0,454.3 523.1,454.1 523.3,453.8 523.4,453.4 523.6,453.0 523.8,452.5 524.0,452.0 524.3,451.5 524.6,450.9 524.9,450.3 525.3,449.7 525.6,449.0 526.0,448.2 526.4,447.4 526.7,446.5 527.0,445.5 527.4,444.4 527.7,443.1 528.0,441.9 528.3,440.6 528.6,439.3 528.9,438.0 529.1,436.8 529.3,435.6 529.5,434.3 529.7,433.0 529.8,431.7 529.9,430.5 530.0,429.4 530.1,428.4 530.2,427.6 530.3,427.0 530.3,426.5 530.3,426.2 530.3,426.0 530.2,425.9 530.2,425.8 530.2,425.7 530.2,425.6" fill="#ff9f9f" />
<polygon points="546.9,425.6 546.9,427.6 546.8,432.4 546.6,438.6 546.4,446.1 546.2,454.4 546.0,463.3 545.7,472.4 545.4,481.4 545.0,490.0 544.6,498.4 544.2,507.0 543.7,515.7 543.2,524.5 542.7,533.4 542.1,542.3 541.5,551.2 540.9,560.0 540.2,568.8 539.5,577.7 538.8,586.6 538.0,595.5 537.2,604.4 536.4,613.1 535.6,621.6 534.8,630.0 533.9,638.5 532.9,647.5 531.9,656.5 530.9,665.2 529.9,673.4 529.0,680.8 528.3,687.0 527.7,691.7 527.7,693.7 585.9,693.7 585.9,425.6" fill="#eeeeff" />
<polygon points="549.9,425.6 549.9,427.6 549.9,432.4 549.8,438.6 549.8,446.1 549.7,454.4 549.6,463.3 549.5,472.4 549.3,481.4 549.1,490.0 548.8,498.4 548.5,507.0 548.2,515.7 547.8,524.5 547.4,533.4 546.9,542.3 546.5,551.2 546.0,560.0 545.5,568.8 545.0,577.7 544.4,586.6 543.9,595.5 543.3,604.4 542.7,613.1 542.1,621.6 541.5,630.0 540.8,638.5 540.1,647.5 539.4,656.5 538.6,665.2 537.9,673.4 537.3,680.8 536.7,687.0 536.3,691.7 536.3,693.7 585.9,693.7 585.9,425.6" fill="#ddddff" />
<polygon points="552.4,425.6 552.4,427.6 552.4,432.4 552.4,438.6 552.4,446.1 552.4,454.4 552.4,463.3 552.4,472.4 552.3,481.4 552.2,490.0 552.0,498.4 551.8,507.0 551.6,515.7 551.3,524.5 551.0,533.4 550.7,542.3 550.4,551.2 550.1,560.0 549.8,568.8 549.4,577.7 549.1,586.6 548.7,595.5 548.3,604.4 547.9,613.1 547.5,621.6 547.1,630.0 546.6,638.5 546.1,647.5 545.5,656.5 544.9,665.2 544.3,673.4 543.8,680.8 543.3,687.0 543.0,691.7 543.0,693.7 585.9,693.7 585.9,425.6" fill="#ccccff" />
<polygon points="555.0,425.6 555.0,427.6 555.0,432.4 555.1,438.6 555.1,446.1 555.2,454.4 555.2,463.3 555.3,472.4 555.3,481.4 555.2,490.0 555.1,498.4 554.9,507.0 554.8,515.7 554.6,524.5 554.3,533.4 554.1,542.3 553.9,551.2 553.7,560.0 553.5,568.8 553.4,577.7 553.2,586.6 553.1,595.5 552.9,604.4 552.7,613.1 552.5,621.6 552.2,630.0 551.9,638.5 551.5,647.5 551.0,656.5 550.6,665.2 550.1,673.4 549.7,680.8 549.4,687.0 549.1,691.7 549.1,693.7 585.9,693.7 585.9,425.6" fill="#bbbbff" />
<polygon points="557.9,425.6 557.9,427.6 557.9,432.4 558.0,438.6 558.1,446.1 558.2,454.4 558.2,463.3 558.3,472.4 558.3,481.4 558.3,490.0 558.2,498.4 558.1,507.0 558.0,515.7 557.9,524.5 557.7,533.4 557.5,542.3 557.4,551.2 557.3,560.0 557.2,568.8 557.2,577.7 557.1,586.6 557.1,595.5 557.1,604.4 557.0,613.1 556.9,621.6 556.8,630.0 556.6,638.5 556.3,647.5 556.0,656.5 555.7,665.2 555.4,673.4 555.1,680.8 554.9,687.0 554.7,691.7 554.7,693.7 585.9,693.7 585.9,425.6" fill="#aaaaff" />
<polygon points="560.4,425.6 560.4,427.6 560.5,432.4 560.6,438.6 560.8,446.1 560.9,454.4 561.1,463.3 561.2,472.4 561.3,481.4 561.4,490.0 561.4,498.4 561.4,507.0 561.3,515.7 561.2,524.5 561.1,533.4 561.0,542.3 560.9,551.2 560.9,560.0 560.9,568.8 560.9,577.7 560.9,586.6 560.9,595.5 560.9,604.4 560.9,613.1 560.9,621.6 560.9,630.0 560.8,638.5 560.8,647.5 560.7,656.5 560.6,665.2 560.5,673.4 560.4,680.8 560.4,687.0 560.3,691.7 560.3,693.7 585.9,693.7 585.9,425.6" fill="#9999ff" />
<polygon points="563.0,425.6 563.0,427.6 563.1,432.4 563.2,438.6 563.4,446.1 563.5,454.4 563.7,463.3 563.9,472.4 564.0,481.4 564.1,490.0 564.2,498.4 564.2,507.0 564.3,515.7 564.3,524.5 564.3,533.4 564.3,542.3 564.4,551.2 564.4,560.0 564.5,568.8 564.5,577.7 564.6,586.6 564.6,595.5 564.7,604.4 564.8,613.1 564.8,621.6 564.9,630.0 565.0,638.5 565.1,647.5 565.1,656.5 565.2,665.2 565.3,673.4 565.4,680.8 565.5,687.0 565.5,691.7 565.5,693.7 585.9,693.7 585.9,425.6" fill="#8888ff" />
<polygon points="565.5,425.6 565.5,427.6 565.6,432.4 565.8,438.6 566.0,446.1 566.2,454.4 566.4,463.3 566.7,472.4 566.9,481.4 567.0,490.0 567.1,498.4 567.2,507.0 567.2,515.7 567.2,524.5 567.3,533.4 567.3,542.3 567.4,551.2 567.5,560.0 567.6,568.8 567.8,577.7 568.0,586.6 568.2,595.5 568.4,604.4 568.6,613.1 568.8,621.6 569.0,630.0 569.2,638.5 569.4,647.5 569.7,656.5 569.9,665.2 570.1,673.4 570.3,680.8 570.5,687.0 570.6,691.7 570.6,693.7 585.9,693.7 585.9,425.6" fill="#7777ff" />
<polygon points="568.1,425.6 568.1,427.6 568.2,432.4 568.4,438.6 568.6,446.1 568.8,454.4 569.1,463.3 569.3,472.4 569.5,481.4 569.7,490.0 569.8,498.4 569.9,507.0 570.0,515.7 570.1,524.5 570.2,533.4 570.3,542.3 570.4,551.2 570.6,560.0 570.8,568.8 571.0,577.7 571.2,586.6 571.5,595.5 571.8,604.4 572.0,613.1 572.3,621.6 572.6,630.0 572.9,638.5 573.3,647.5 573.6,656.5 574.0,665.2 574.4,673.4 574.7,680.8 575.0,687.0 575.2,691.7 575.2,693.7 585.9,693.7 585.9,425.6" fill="#6666ff" />
<polygon points="570.7,425.6 570.7,427.6 570.8,432.4 571.0,438.6 571.2,446.1 571.5,454.4 571.7,463.3 572.0,472.4 572.2,481.4 572.4,490.0 572.6,498.4 572.7,507.0 572.8,515.7 572.9,524.5 573.1,533.4 573.2,542.3 573.4,551.2 573.6,560.0 573.9,568.8 574.1,577.7 574.5,586.6 574.8,595.5 575.1,604.4 575.5,613.1 575.8,621.6 576.2,630.0 576.6,638.5 577.0,647.5 577.4,656.5 577.9,665.2 578.3,673.4 578.7,680.8 579.0,687.0 579.2,691.7 579.2,693.7 585.9,693.7 585.9,425.6" fill="#5555ff" />
<polygon points="573.2,425.6 573.2,427.6 573.4,432.4 573.6,438.6 573.8,446.1 574.1,454.4 574.4,463.3 574.7,472.4 575.0,481.4 575.2,490.0 575.4,498.4 575.5,507.0 575.7,515.7 575.8,524.5 575.9,533.4 576.1,542.3 576.3,551.2 576.5,560.0 576.8,568.8 577.1,577.7 577.4,586.6 577.7,595.5 578.1,604.4 578.5,613.1 578.8,621.6 579.2,630.0 579.6,638.5 580.0,647.5 580.5,656.5 580.9,665.2 581.3,673.4 581.7,680.8 582.1,687.0 582.3,691.7 582.3,693.7 585.9,693.7 585.9,425.6" fill="#4444ff" />
<polygon points="575.8,425.6 575.8,427.6 575.9,432.4 576.1,438.6 576.3,446.1 576.5,454.4 576.8,463.3 577.0,472.4 577.3,481.4 577.5,490.0 577.7,498.4 577.9,507.0 578.1,515.7 578.3,524.5 578.5,533.4 578.7,542.3 578.9,551.2 579.2,560.0 579.5,569.0 579.9,578.2 580.2,587.6 580.6,596.9 581.0,605.9 581.4,614.6 581.8,622.7 582.1,630.0 582.4,636.7 582.7,643.0 582.9,649.0 583.2,654.4 583.4,659.2 583.6,663.5 583.8,667.1 583.9,670.0 585.9,670.0 585.9,425.6" fill="#3333ff" />
<polygon points="578.3,425.6 578.3,427.6 578.4,432.4 578.6,438.6 578.7,446.1 578.9,454.4 579.1,463.3 579.4,472.4 579.6,481.4 579.8,490.0 580.0,498.5 580.3,507.4 580.5,516.5 580.8,525.6 581.0,534.7 581.3,543.6 581.5,552.1 581.8,560.0 582.1,567.7 582.4,575.5 582.7,583.1 583.0,590.4 583.3,597.1 583.5,603.1 583.7,608.1 583.9,612.0 585.9,612.0 585.9,425.6" fill="#2222ff" />
<polygon points="580.5,425.6 580.5,427.6 580.6,432.4 580.7,438.6 580.9,446.1 581.0,454.4 581.2,463.3 581.4,472.4 581.6,481.4 581.8,490.0 582.0,498.9 582.3,508.6 582.6,518.8 582.9,528.9 583.2,538.5 583.5,547.2 583.7,554.5 583.9,560.0 585.9,560.0 585.9,425.6" fill="#1111ff" />
<polygon points="582.3,425.6 582.3,427.6 583.9,508.0 585.9,508.0 585.9,425.6" fill="#0000ff" />
</g>
<g class="ax">
<rect x="421.7" y="427.6" width="162.2" height="264.1" fill="none" stroke="#000" stroke-opacity="0.42" stroke-width="0.9"/>
<line x1="421.7" y1="437.7" x2="421.7" y2="691.7" style="stroke:#000;stroke-opacity:0.25"/>
<line x1="415.2" y1="691.7" x2="581.6" y2="691.7" style="stroke:#000;stroke-opacity:0.4"/>
<line x1="415.2" y1="691.9" x2="421.7" y2="691.9" />
<line x1="415.2" y1="641.0" x2="421.7" y2="641.0" />
<line x1="415.2" y1="590.2" x2="421.7" y2="590.2" />
<line x1="415.2" y1="539.3" x2="421.7" y2="539.3" />
<line x1="415.2" y1="488.5" x2="421.7" y2="488.5" />
<line x1="415.2" y1="437.6" x2="421.7" y2="437.6" />
<line x1="421.7" y1="691.7" x2="421.7" y2="697.7" />
<line x1="444.6" y1="691.7" x2="444.6" y2="697.7" />
<line x1="467.4" y1="691.7" x2="467.4" y2="697.7" />
<line x1="490.2" y1="691.7" x2="490.2" y2="697.7" />
<line x1="513.1" y1="691.7" x2="513.1" y2="697.7" />
<line x1="536.0" y1="691.7" x2="536.0" y2="697.7" />
<line x1="558.8" y1="691.7" x2="558.8" y2="697.7" />
<line x1="581.6" y1="691.7" x2="581.6" y2="697.7" />
</g>
<g class="t2" text-anchor="end">
<text x="409.0" y="696.5">0</text>
<text x="409.0" y="645.6">10</text>
<text x="409.0" y="594.8">20</text>
<text x="409.0" y="543.9">30</text>
<text x="409.0" y="493.1">40</text>
<text x="409.0" y="442.2">50</text>
</g>
<g class="t2" text-anchor="middle">
<text x="421.7" y="714.6">45</text>
<text x="444.6" y="714.6">50</text>
<text x="467.4" y="714.6">55</text>
<text x="490.2" y="714.6">60</text>
<text x="513.1" y="714.6">65</text>
<text x="536.0" y="714.6">70</text>
<text x="558.8" y="714.6">75</text>
<text x="581.6" y="714.6">80</text>
<text x="502.9" y="739.9">Minimum RH</text>
<text transform="translate(381.6,559.6) rotate(-90)">Lag (weeks)</text>
</g>
<rect x="609.4" y="680.88" width="25.5" height="11.02" fill="#0000ff" stroke="#000" stroke-opacity="0.85" stroke-width="0.6"/>
<rect x="609.4" y="669.87" width="25.5" height="11.02" fill="#1111ff" stroke="#000" stroke-opacity="0.85" stroke-width="0.6"/>
<rect x="609.4" y="658.85" width="25.5" height="11.02" fill="#2222ff" stroke="#000" stroke-opacity="0.85" stroke-width="0.6"/>
<rect x="609.4" y="647.83" width="25.5" height="11.02" fill="#3333ff" stroke="#000" stroke-opacity="0.85" stroke-width="0.6"/>
<rect x="609.4" y="636.82" width="25.5" height="11.02" fill="#4444ff" stroke="#000" stroke-opacity="0.85" stroke-width="0.6"/>
<rect x="609.4" y="625.80" width="25.5" height="11.02" fill="#5555ff" stroke="#000" stroke-opacity="0.85" stroke-width="0.6"/>
<rect x="609.4" y="614.78" width="25.5" height="11.02" fill="#6666ff" stroke="#000" stroke-opacity="0.85" stroke-width="0.6"/>
<rect x="609.4" y="603.77" width="25.5" height="11.02" fill="#7777ff" stroke="#000" stroke-opacity="0.85" stroke-width="0.6"/>
<rect x="609.4" y="592.75" width="25.5" height="11.02" fill="#8888ff" stroke="#000" stroke-opacity="0.85" stroke-width="0.6"/>
<rect x="609.4" y="581.73" width="25.5" height="11.02" fill="#9999ff" stroke="#000" stroke-opacity="0.85" stroke-width="0.6"/>
<rect x="609.4" y="570.72" width="25.5" height="11.02" fill="#aaaaff" stroke="#000" stroke-opacity="0.85" stroke-width="0.6"/>
<rect x="609.4" y="559.70" width="25.5" height="11.02" fill="#bbbbff" stroke="#000" stroke-opacity="0.85" stroke-width="0.6"/>
<rect x="609.4" y="548.68" width="25.5" height="11.02" fill="#ccccff" stroke="#000" stroke-opacity="0.85" stroke-width="0.6"/>
<rect x="609.4" y="537.67" width="25.5" height="11.02" fill="#ddddff" stroke="#000" stroke-opacity="0.85" stroke-width="0.6"/>
<rect x="609.4" y="526.65" width="25.5" height="11.02" fill="#eeeeff" stroke="#000" stroke-opacity="0.85" stroke-width="0.6"/>
<rect x="609.4" y="515.63" width="25.5" height="11.02" fill="#ffffff" stroke="#000" stroke-opacity="0.85" stroke-width="0.6"/>
<rect x="609.4" y="504.62" width="25.5" height="11.02" fill="#ffffff" stroke="#000" stroke-opacity="0.85" stroke-width="0.6"/>
<rect x="609.4" y="493.60" width="25.5" height="11.02" fill="#ffdfdf" stroke="#000" stroke-opacity="0.85" stroke-width="0.6"/>
<rect x="609.4" y="482.58" width="25.5" height="11.02" fill="#ffbfbf" stroke="#000" stroke-opacity="0.85" stroke-width="0.6"/>
<rect x="609.4" y="471.57" width="25.5" height="11.02" fill="#ff9f9f" stroke="#000" stroke-opacity="0.85" stroke-width="0.6"/>
<rect x="609.4" y="460.55" width="25.5" height="11.02" fill="#ff8080" stroke="#000" stroke-opacity="0.85" stroke-width="0.6"/>
<rect x="609.4" y="449.53" width="25.5" height="11.02" fill="#ff6060" stroke="#000" stroke-opacity="0.85" stroke-width="0.6"/>
<rect x="609.4" y="438.52" width="25.5" height="11.02" fill="#ff4040" stroke="#000" stroke-opacity="0.85" stroke-width="0.6"/>
<rect x="609.4" y="427.50" width="25.5" height="11.02" fill="#ff2020" stroke="#000" stroke-opacity="0.85" stroke-width="0.6"/>
<g class="ax">
<line x1="634.9" y1="460.6" x2="641.4" y2="460.6" />
<line x1="634.9" y1="515.6" x2="641.4" y2="515.6" />
<line x1="634.9" y1="570.7" x2="641.4" y2="570.7" />
<line x1="634.9" y1="625.8" x2="641.4" y2="625.8" />
<line x1="634.9" y1="680.9" x2="641.4" y2="680.9" />
</g>
<g class="t2">
<text x="647.7" y="464.9">1.1</text>
<text x="647.7" y="520.0">1.0</text>
<text x="647.7" y="575.1">0.9</text>
<text x="647.7" y="630.2">0.8</text>
<text x="647.7" y="685.3">0.7</text>
</g>
<text x="622.3" y="406.7" text-anchor="middle" font-weight="bold" font-size="12.6px" style="fill:#000">RR</text>
</svg>
</body></html>
